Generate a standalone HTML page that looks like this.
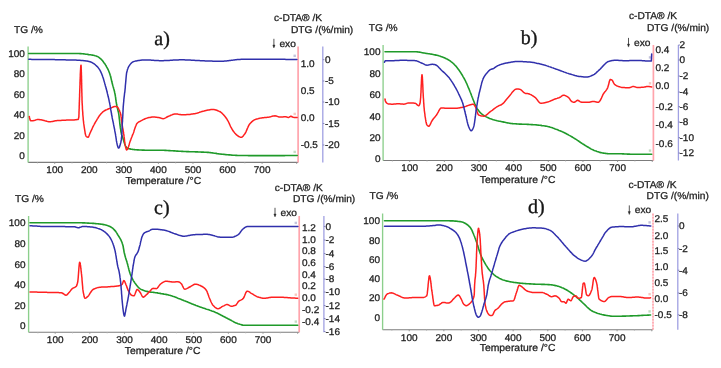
<!DOCTYPE html>
<html><head><meta charset="utf-8"><style>
html,body{margin:0;padding:0;background:#fff;width:721px;height:368px;overflow:hidden}
svg{display:block;will-change:transform} text{text-rendering:geometricPrecision}
</style></head><body>
<svg width="721" height="368" viewBox="0 0 721 368">
<rect width="721" height="368" fill="#fff"/>
<line x1="28.10" y1="162.40" x2="298.10" y2="162.40" stroke="#7c7c7c" stroke-width="1.1"/>
<line x1="37.42" y1="162.40" x2="37.42" y2="163.50" stroke="#b8b8b8" stroke-width="0.8"/>
<line x1="54.70" y1="162.40" x2="54.70" y2="163.90" stroke="#909090" stroke-width="0.9"/>
<line x1="71.98" y1="162.40" x2="71.98" y2="163.50" stroke="#b8b8b8" stroke-width="0.8"/>
<line x1="89.27" y1="162.40" x2="89.27" y2="163.90" stroke="#909090" stroke-width="0.9"/>
<line x1="106.55" y1="162.40" x2="106.55" y2="163.50" stroke="#b8b8b8" stroke-width="0.8"/>
<line x1="123.83" y1="162.40" x2="123.83" y2="163.90" stroke="#909090" stroke-width="0.9"/>
<line x1="141.12" y1="162.40" x2="141.12" y2="163.50" stroke="#b8b8b8" stroke-width="0.8"/>
<line x1="158.40" y1="162.40" x2="158.40" y2="163.90" stroke="#909090" stroke-width="0.9"/>
<line x1="175.68" y1="162.40" x2="175.68" y2="163.50" stroke="#b8b8b8" stroke-width="0.8"/>
<line x1="192.97" y1="162.40" x2="192.97" y2="163.90" stroke="#909090" stroke-width="0.9"/>
<line x1="210.25" y1="162.40" x2="210.25" y2="163.50" stroke="#b8b8b8" stroke-width="0.8"/>
<line x1="227.53" y1="162.40" x2="227.53" y2="163.90" stroke="#909090" stroke-width="0.9"/>
<line x1="244.82" y1="162.40" x2="244.82" y2="163.50" stroke="#b8b8b8" stroke-width="0.8"/>
<line x1="262.10" y1="162.40" x2="262.10" y2="163.90" stroke="#909090" stroke-width="0.9"/>
<line x1="279.38" y1="162.40" x2="279.38" y2="163.50" stroke="#b8b8b8" stroke-width="0.8"/>
<line x1="296.67" y1="162.40" x2="296.67" y2="163.90" stroke="#909090" stroke-width="0.9"/>
<line x1="28.10" y1="46.50" x2="28.10" y2="162.40" stroke="#8ccf8c" stroke-width="1.35"/>
<line x1="298.10" y1="46.50" x2="298.10" y2="162.40" stroke="#ffa4ac" stroke-width="1.7"/>
<line x1="322.80" y1="46.50" x2="322.80" y2="162.40" stroke="#a0a0e2" stroke-width="1.3"/>
<text transform="translate(24.90,56.72) scale(1,0.97)" font-size="10" text-anchor="end" font-family="Liberation Sans" fill="#222" stroke="#222" stroke-width="0.28">100</text>
<text transform="translate(24.90,77.22) scale(1,0.97)" font-size="10" text-anchor="end" font-family="Liberation Sans" fill="#222" stroke="#222" stroke-width="0.28">80</text>
<text transform="translate(24.90,97.72) scale(1,0.97)" font-size="10" text-anchor="end" font-family="Liberation Sans" fill="#222" stroke="#222" stroke-width="0.28">60</text>
<text transform="translate(24.90,118.22) scale(1,0.97)" font-size="10" text-anchor="end" font-family="Liberation Sans" fill="#222" stroke="#222" stroke-width="0.28">40</text>
<text transform="translate(24.90,138.72) scale(1,0.97)" font-size="10" text-anchor="end" font-family="Liberation Sans" fill="#222" stroke="#222" stroke-width="0.28">20</text>
<text transform="translate(24.90,159.22) scale(1,0.97)" font-size="10" text-anchor="end" font-family="Liberation Sans" fill="#222" stroke="#222" stroke-width="0.28">0</text>
<text transform="translate(54.70,173.17) scale(1,0.97)" font-size="10" text-anchor="middle" font-family="Liberation Sans" fill="#222" stroke="#222" stroke-width="0.28">100</text>
<text transform="translate(89.27,173.17) scale(1,0.97)" font-size="10" text-anchor="middle" font-family="Liberation Sans" fill="#222" stroke="#222" stroke-width="0.28">200</text>
<text transform="translate(123.83,173.17) scale(1,0.97)" font-size="10" text-anchor="middle" font-family="Liberation Sans" fill="#222" stroke="#222" stroke-width="0.28">300</text>
<text transform="translate(158.40,173.17) scale(1,0.97)" font-size="10" text-anchor="middle" font-family="Liberation Sans" fill="#222" stroke="#222" stroke-width="0.28">400</text>
<text transform="translate(192.97,173.17) scale(1,0.97)" font-size="10" text-anchor="middle" font-family="Liberation Sans" fill="#222" stroke="#222" stroke-width="0.28">500</text>
<text transform="translate(227.53,173.17) scale(1,0.97)" font-size="10" text-anchor="middle" font-family="Liberation Sans" fill="#222" stroke="#222" stroke-width="0.28">600</text>
<text transform="translate(262.10,173.17) scale(1,0.97)" font-size="10" text-anchor="middle" font-family="Liberation Sans" fill="#222" stroke="#222" stroke-width="0.28">700</text>
<text transform="translate(300.70,67.47) scale(1,0.97)" font-size="10" text-anchor="start" font-family="Liberation Sans" fill="#222" stroke="#222" stroke-width="0.28">1.0</text>
<text transform="translate(300.70,94.47) scale(1,0.97)" font-size="10" text-anchor="start" font-family="Liberation Sans" fill="#222" stroke="#222" stroke-width="0.28">0.5</text>
<text transform="translate(300.70,120.97) scale(1,0.97)" font-size="10" text-anchor="start" font-family="Liberation Sans" fill="#222" stroke="#222" stroke-width="0.28">0.0</text>
<text transform="translate(300.70,148.47) scale(1,0.97)" font-size="10" text-anchor="start" font-family="Liberation Sans" fill="#222" stroke="#222" stroke-width="0.28">-0.5</text>
<text transform="translate(325.00,63.17) scale(1,0.97)" font-size="10" text-anchor="start" font-family="Liberation Sans" fill="#222" stroke="#222" stroke-width="0.28">0</text>
<line x1="322.80" y1="59.70" x2="324.40" y2="59.70" stroke="#8080b8" stroke-width="0.9"/>
<text transform="translate(325.00,84.47) scale(1,0.97)" font-size="10" text-anchor="start" font-family="Liberation Sans" fill="#222" stroke="#222" stroke-width="0.28">-5</text>
<line x1="322.80" y1="81.00" x2="324.40" y2="81.00" stroke="#8080b8" stroke-width="0.9"/>
<text transform="translate(325.00,105.47) scale(1,0.97)" font-size="10" text-anchor="start" font-family="Liberation Sans" fill="#222" stroke="#222" stroke-width="0.28">-10</text>
<line x1="322.80" y1="102.00" x2="324.40" y2="102.00" stroke="#8080b8" stroke-width="0.9"/>
<text transform="translate(325.00,126.97) scale(1,0.97)" font-size="10" text-anchor="start" font-family="Liberation Sans" fill="#222" stroke="#222" stroke-width="0.28">-15</text>
<line x1="322.80" y1="123.50" x2="324.40" y2="123.50" stroke="#8080b8" stroke-width="0.9"/>
<text transform="translate(325.00,148.47) scale(1,0.97)" font-size="10" text-anchor="start" font-family="Liberation Sans" fill="#222" stroke="#222" stroke-width="0.28">-20</text>
<line x1="322.80" y1="145.00" x2="324.40" y2="145.00" stroke="#8080b8" stroke-width="0.9"/>
<text transform="translate(14.00,32.77) scale(1,0.97)" font-size="10.2" text-anchor="start" font-family="Liberation Sans" fill="#222" stroke="#222" stroke-width="0.28">TG /%</text>
<text transform="translate(274.00,21.37) scale(1,0.97)" font-size="10.2" text-anchor="start" font-family="Liberation Sans" fill="#222" stroke="#222" stroke-width="0.28">c-DTA® /K</text>
<text transform="translate(291.00,32.97) scale(1,0.97)" font-size="10.2" text-anchor="start" font-family="Liberation Sans" fill="#222" stroke="#222" stroke-width="0.28">DTG /(%/min)</text>
<path d="M273.90,38.80 L273.90,46.90" stroke="#2a2a2a" stroke-width="0.8"/>
<path d="M272.80,45.00 L273.90,48.00 L275.00,45.00 Z" fill="#2a2a2a" stroke="#2a2a2a" stroke-width="0.4"/>
<text transform="translate(279.40,46.87) scale(1,0.97)" font-size="10.2" text-anchor="start" font-family="Liberation Sans" fill="#222" stroke="#222" stroke-width="0.28">exo</text>
<text transform="translate(125.40,184.47) scale(1,0.97)" font-size="10.4" text-anchor="start" font-family="Liberation Sans" fill="#222" stroke="#222" stroke-width="0.28">Temperature /°C</text>
<text transform="translate(154.30,44.60) scale(1,1.0)" font-size="20" text-anchor="start" font-family="Liberation Serif" fill="#161616" stroke="#161616" stroke-width="0.35">a)</text>
<rect x="293.50" y="150.70" width="2.4" height="2.4" fill="#c4dcc4"/>
<rect x="293.50" y="112.70" width="2.4" height="2.4" fill="#f8c8c0"/>
<rect x="293.50" y="54.60" width="2.4" height="2.4" fill="#c4c4dc"/>
<path d="M28.8,53.5 L29.8,53.5 L30.8,53.5 L31.8,53.5 L32.7,53.5 L33.7,53.5 L34.7,53.5 L35.7,53.5 L36.7,53.5 L37.7,53.5 L38.6,53.5 L39.6,53.5 L40.6,53.5 L41.6,53.5 L42.6,53.5 L43.6,53.5 L44.5,53.5 L45.5,53.5 L46.5,53.5 L47.5,53.5 L48.5,53.5 L49.5,53.5 L50.4,53.5 L51.4,53.5 L52.4,53.5 L53.4,53.5 L54.4,53.5 L55.4,53.5 L56.4,53.5 L57.3,53.5 L58.3,53.5 L59.3,53.5 L60.3,53.5 L61.3,53.5 L62.3,53.5 L63.2,53.5 L64.2,53.5 L65.2,53.5 L66.2,53.5 L67.2,53.5 L68.2,53.5 L69.1,53.5 L70.1,53.5 L71.1,53.5 L72.1,53.5 L73.1,53.5 L74.1,53.5 L75.0,53.5 L76.0,53.5 L77.0,53.5 L78.0,53.5 L79.0,53.5 L80.0,53.6 L80.9,53.6 L81.9,53.7 L82.9,53.8 L83.8,53.9 L84.8,54.0 L85.8,54.2 L86.8,54.3 L87.8,54.4 L88.7,54.6 L89.7,54.7 L90.6,54.8 L91.5,55.0 L92.4,55.1 L93.3,55.3 L94.3,55.5 L95.2,55.8 L96.2,56.0 L97.2,56.4 L98.2,56.9 L99.2,57.6 L100.1,58.3 L101.1,59.2 L101.8,59.9 L102.4,60.6 L103.1,61.5 L103.7,62.4 L104.4,63.3 L105.0,64.1 L105.5,64.9 L106.1,65.8 L106.6,66.8 L107.2,67.8 L107.6,68.6 L108.0,69.4 L108.4,70.3 L108.8,71.2 L109.2,72.2 L109.6,73.2 L110.0,74.4 L110.2,75.2 L110.5,76.1 L110.7,77.1 L111.0,78.1 L111.2,79.1 L111.5,80.2 L111.7,81.3 L112.0,82.3 L112.2,83.3 L112.5,84.3 L112.7,85.2 L113.0,86.1 L113.2,86.9 L113.5,87.8 L113.7,88.7 L114.0,89.6 L114.2,90.6 L114.5,91.6 L114.7,92.7 L115.0,93.9 L115.1,94.6 L115.3,95.5 L115.4,96.4 L115.6,97.3 L115.7,98.3 L115.8,99.3 L116.0,100.4 L116.1,101.4 L116.3,102.4 L116.4,103.3 L116.6,104.2 L116.7,105.0 L116.9,106.1 L117.1,107.1 L117.4,108.0 L117.6,108.9 L117.8,109.8 L118.0,110.6 L118.2,111.6 L118.5,112.6 L118.7,113.7 L118.9,115.0 L119.0,115.8 L119.1,116.7 L119.2,117.7 L119.3,118.8 L119.5,119.9 L119.6,121.0 L119.7,122.1 L119.8,123.2 L119.9,124.1 L120.0,125.0 L120.2,126.2 L120.3,127.4 L120.5,128.6 L120.7,129.7 L120.8,130.8 L121.0,131.8 L121.2,132.8 L121.4,133.6 L121.5,134.4 L121.7,135.0 L122.1,136.1 L122.4,136.9 L122.8,137.8 L123.1,138.7 L123.4,139.7 L123.7,140.8 L124.0,141.9 L124.4,142.9 L124.7,143.9 L125.0,144.8 L125.3,145.5 L125.6,146.1 L126.3,147.1 L127.1,147.8 L127.8,148.3 L128.5,148.6 L129.3,148.7 L130.0,148.9 L130.9,149.1 L131.8,149.2 L132.7,149.4 L133.6,149.5 L134.5,149.6 L135.4,149.7 L136.3,149.8 L137.3,149.9 L138.2,149.9 L139.2,150.0 L140.2,150.0 L141.2,150.0 L142.2,150.1 L143.1,150.1 L144.1,150.1 L145.1,150.2 L146.1,150.2 L147.0,150.2 L148.0,150.2 L149.0,150.2 L150.0,150.2 L151.0,150.2 L152.0,150.2 L153.0,150.2 L154.0,150.2 L155.0,150.2 L156.0,150.2 L157.0,150.2 L158.0,150.2 L159.0,150.2 L160.0,150.2 L161.0,150.2 L162.0,150.3 L162.9,150.3 L163.9,150.3 L164.9,150.4 L165.9,150.4 L166.9,150.5 L167.9,150.5 L168.9,150.6 L169.9,150.6 L170.9,150.7 L171.8,150.7 L172.8,150.8 L173.8,150.9 L174.8,150.9 L175.8,151.0 L176.8,151.1 L177.8,151.1 L178.8,151.2 L179.8,151.2 L180.7,151.3 L181.7,151.4 L182.7,151.4 L183.7,151.5 L184.7,151.5 L185.7,151.5 L186.7,151.6 L187.6,151.6 L188.6,151.6 L189.6,151.7 L190.6,151.7 L191.6,151.7 L192.6,151.8 L193.5,151.8 L194.5,151.8 L195.5,151.9 L196.5,151.9 L197.5,151.9 L198.4,152.0 L199.4,152.0 L200.4,152.0 L201.4,152.1 L202.4,152.1 L203.4,152.1 L204.3,152.2 L205.3,152.2 L206.3,152.3 L207.3,152.4 L208.3,152.4 L209.2,152.5 L210.2,152.6 L211.2,152.8 L212.2,152.9 L213.2,153.0 L214.2,153.2 L215.1,153.3 L216.1,153.4 L217.1,153.6 L218.1,153.7 L219.1,153.9 L220.1,154.0 L221.0,154.1 L222.0,154.2 L223.0,154.3 L224.0,154.4 L225.0,154.5 L225.9,154.6 L226.9,154.7 L227.9,154.8 L228.9,154.9 L229.9,154.9 L230.9,155.0 L231.8,155.1 L232.8,155.2 L233.8,155.3 L234.8,155.3 L235.8,155.4 L236.8,155.4 L237.7,155.5 L238.7,155.5 L239.7,155.5 L240.7,155.5 L241.7,155.5 L242.6,155.5 L243.6,155.5 L244.6,155.5 L245.6,155.5 L246.5,155.5 L247.5,155.5 L248.5,155.6 L249.5,155.6 L250.4,155.6 L251.4,155.6 L252.4,155.6 L253.4,155.6 L254.3,155.6 L255.3,155.6 L256.3,155.6 L257.3,155.6 L258.2,155.6 L259.2,155.6 L260.2,155.6 L261.2,155.6 L262.1,155.6 L263.1,155.6 L264.1,155.6 L265.1,155.6 L266.0,155.6 L267.0,155.6 L268.0,155.6 L269.0,155.6 L269.9,155.6 L270.9,155.6 L271.9,155.6 L272.9,155.6 L273.8,155.6 L274.8,155.6 L275.8,155.6 L276.8,155.6 L277.7,155.6 L278.7,155.6 L279.7,155.6 L280.7,155.6 L281.6,155.6 L282.6,155.6 L283.6,155.6 L284.5,155.6 L285.5,155.5 L286.5,155.5 L287.5,155.5 L288.4,155.5 L289.4,155.5 L290.4,155.5 L291.4,155.5 L292.3,155.5 L293.3,155.5 L294.3,155.5 L295.3,155.5 L296.2,155.5 L297.2,155.5" fill="none" stroke="#1f9a2a" stroke-width="1.6" stroke-linejoin="round" stroke-linecap="round"/>
<path d="M29.3,116.5 L29.5,117.5 L29.8,118.6 L30.0,119.6 L30.3,120.4 L30.5,120.7 L31.3,120.7 L32.2,120.7 L33.0,120.7 L34.0,120.6 L35.0,120.3 L36.0,119.9 L37.0,119.6 L38.0,119.5 L39.0,119.5 L40.0,119.7 L41.0,119.8 L42.0,120.0 L43.0,120.2 L44.0,120.4 L44.9,120.7 L45.9,121.0 L46.8,121.3 L47.8,121.6 L48.7,121.7 L49.7,121.8 L50.6,121.7 L51.6,121.6 L52.5,121.4 L53.5,121.2 L54.4,121.0 L55.4,120.8 L56.3,120.7 L57.2,120.6 L58.2,120.6 L59.1,120.5 L60.0,120.4 L61.0,120.4 L61.9,120.3 L62.8,120.3 L63.8,120.3 L64.7,120.2 L65.7,120.2 L66.6,120.1 L67.5,120.1 L68.5,120.1 L69.5,120.0 L70.4,120.0 L71.3,120.0 L72.3,120.0 L73.2,119.9 L74.2,119.9 L75.2,119.8 L76.1,119.7 L77.0,119.6 L78.0,119.5 L78.3,119.2 L78.5,118.5 L78.8,117.3 L78.8,117.0 L78.9,116.5 L78.9,115.8 L78.9,115.0 L79.0,114.1 L79.0,113.0 L79.0,111.9 L79.1,110.7 L79.1,109.5 L79.2,108.3 L79.2,107.1 L79.2,106.0 L79.3,104.9 L79.3,104.0 L79.3,102.9 L79.4,101.7 L79.4,100.6 L79.5,99.4 L79.5,98.1 L79.6,96.9 L79.6,95.6 L79.6,94.3 L79.7,93.0 L79.7,91.7 L79.8,90.3 L79.8,89.0 L79.9,87.7 L79.9,86.3 L80.0,85.0 L80.0,83.7 L80.0,82.4 L80.1,81.2 L80.1,79.9 L80.2,78.7 L80.2,77.5 L80.3,76.4 L80.3,75.2 L80.3,74.1 L80.4,73.1 L80.4,72.1 L80.5,71.2 L80.5,70.3 L80.6,69.5 L80.6,68.7 L80.7,68.0 L80.7,67.4 L80.7,66.8 L80.8,66.3 L80.8,65.9 L80.9,65.6 L80.9,65.4 L81.0,65.2 L81.0,65.2 L81.0,65.3 L81.1,65.4 L81.1,65.7 L81.1,66.1 L81.2,66.6 L81.2,67.2 L81.2,67.9 L81.2,68.7 L81.3,69.5 L81.3,70.5 L81.3,71.5 L81.4,72.5 L81.4,73.6 L81.4,74.8 L81.5,76.0 L81.5,77.2 L81.5,78.5 L81.6,79.8 L81.6,81.2 L81.6,82.5 L81.6,83.9 L81.7,85.2 L81.7,86.6 L81.7,88.0 L81.8,89.3 L81.8,90.7 L81.8,92.0 L81.9,93.3 L81.9,94.5 L81.9,95.7 L82.0,96.9 L82.0,98.0 L82.0,99.1 L82.0,100.1 L82.1,101.0 L82.1,101.9 L82.1,102.7 L82.2,103.4 L82.2,104.0 L82.3,105.4 L82.4,106.8 L82.4,108.2 L82.5,109.5 L82.6,110.7 L82.7,111.9 L82.8,113.1 L82.8,114.2 L82.9,115.2 L83.0,116.2 L83.1,117.2 L83.2,118.1 L83.2,119.0 L83.3,119.8 L83.4,120.6 L83.5,121.4 L83.6,122.1 L83.6,122.7 L83.7,123.4 L83.8,124.0 L84.0,125.4 L84.2,126.8 L84.4,128.1 L84.6,129.4 L84.8,130.6 L85.0,131.8 L85.1,132.8 L85.3,133.8 L85.5,134.6 L85.7,135.3 L85.9,135.8 L86.1,136.3 L86.3,136.5 L87.2,137.1 L88.0,137.3 L88.5,136.9 L89.0,135.8 L89.5,134.5 L90.0,133.3 L90.4,132.4 L90.8,131.5 L91.2,130.6 L91.7,129.7 L92.1,128.7 L92.5,127.8 L92.9,126.9 L93.3,126.1 L93.9,125.0 L94.4,124.0 L95.0,123.0 L95.5,122.0 L96.1,121.1 L96.7,120.2 L97.2,119.2 L97.8,118.3 L98.3,117.4 L98.9,116.5 L99.4,115.7 L100.0,115.0 L101.0,113.8 L102.0,112.8 L102.9,111.8 L103.9,111.1 L104.9,110.5 L105.8,110.0 L106.8,109.6 L107.7,109.2 L108.7,108.8 L109.6,108.5 L110.6,108.1 L111.6,107.7 L112.6,107.2 L113.6,106.8 L114.6,106.5 L115.6,106.4 L116.4,106.5 L117.2,106.9 L117.8,107.4 L118.3,108.3 L118.9,109.4 L119.2,110.1 L119.6,110.8 L119.9,111.7 L120.3,112.7 L120.6,113.9 L120.7,114.5 L120.9,115.2 L121.0,116.0 L121.1,116.9 L121.3,117.9 L121.4,118.9 L121.5,120.0 L121.7,121.1 L121.8,122.1 L121.9,123.1 L122.1,124.1 L122.2,125.0 L122.4,126.1 L122.5,127.1 L122.7,128.0 L122.9,129.0 L123.1,129.9 L123.2,130.8 L123.4,131.8 L123.6,132.8 L123.7,133.9 L123.9,135.0 L124.0,135.9 L124.1,136.9 L124.3,138.0 L124.4,139.1 L124.5,140.2 L124.6,141.3 L124.8,142.3 L124.9,143.2 L125.0,143.9 L125.2,145.2 L125.5,146.4 L125.7,147.5 L126.0,148.5 L126.2,149.3 L126.5,149.8 L126.7,150.0 L127.2,149.5 L127.8,148.5 L128.3,147.2 L128.6,146.5 L128.9,145.6 L129.2,144.6 L129.4,143.6 L129.7,142.6 L130.0,141.7 L130.4,140.6 L130.8,139.6 L131.1,138.7 L131.5,137.7 L131.9,136.8 L132.2,135.9 L132.6,134.9 L133.0,134.0 L133.4,133.0 L133.8,131.9 L134.1,130.7 L134.5,129.5 L134.9,128.3 L135.3,127.2 L135.7,126.1 L136.1,125.2 L136.4,124.4 L136.8,123.7 L137.2,123.2 L138.0,122.5 L138.8,121.9 L139.7,121.5 L140.5,121.1 L141.3,120.7 L142.3,120.2 L143.2,119.7 L144.2,119.2 L145.1,118.8 L146.1,118.4 L147.0,118.1 L148.0,117.8 L149.0,117.6 L150.0,117.4 L151.0,117.2 L152.0,117.0 L153.0,117.0 L154.0,117.0 L154.9,117.1 L155.9,117.2 L156.8,117.3 L157.8,117.4 L158.7,117.5 L159.7,117.7 L160.5,117.9 L161.3,118.3 L162.2,118.6 L163.0,118.7 L164.0,118.5 L165.0,118.1 L166.0,117.6 L167.0,117.0 L168.0,116.5 L168.9,116.1 L169.9,115.7 L170.8,115.3 L171.8,114.9 L172.7,114.5 L173.6,114.3 L174.6,114.1 L175.5,114.0 L176.4,114.0 L177.4,114.1 L178.3,114.3 L179.2,114.4 L180.2,114.5 L181.1,114.7 L182.1,114.8 L183.0,114.8 L184.0,114.8 L184.9,114.8 L185.9,114.7 L186.9,114.6 L187.9,114.6 L188.8,114.5 L189.8,114.4 L190.8,114.2 L191.8,114.1 L192.8,114.0 L193.7,113.8 L194.7,113.7 L195.6,113.5 L196.5,113.3 L197.5,113.0 L198.4,112.7 L199.3,112.4 L200.2,112.0 L201.2,111.7 L202.1,111.4 L203.0,111.2 L204.0,111.0 L205.0,110.7 L206.0,110.5 L207.0,110.3 L208.0,110.1 L209.0,109.9 L210.0,109.7 L211.0,109.6 L212.0,109.5 L213.0,109.5 L214.0,109.6 L214.9,109.7 L215.9,110.0 L216.8,110.3 L217.8,110.7 L218.7,111.1 L219.7,111.5 L220.6,112.0 L221.6,112.8 L222.5,113.7 L223.5,114.7 L224.4,115.8 L225.4,117.0 L226.3,118.2 L226.8,118.9 L227.3,119.8 L227.8,120.7 L228.4,121.7 L228.9,122.8 L229.4,123.9 L229.9,125.0 L230.4,126.1 L230.9,127.1 L231.5,128.2 L232.0,129.1 L232.5,130.0 L233.0,130.7 L233.8,131.8 L234.7,132.9 L235.5,133.8 L236.3,134.7 L237.2,135.4 L238.0,136.0 L238.8,136.5 L239.7,136.9 L240.5,137.2 L241.3,137.3 L242.2,137.0 L243.0,136.2 L243.8,135.1 L244.7,134.0 L245.2,133.3 L245.7,132.3 L246.2,131.3 L246.7,130.1 L247.2,128.9 L247.7,127.8 L248.2,126.6 L248.7,125.6 L249.2,124.7 L249.7,124.0 L250.6,123.0 L251.5,122.1 L252.3,121.3 L253.2,120.6 L254.1,120.0 L255.0,119.6 L256.0,119.2 L256.9,118.9 L257.9,118.7 L258.8,118.4 L259.8,118.2 L260.7,118.1 L261.7,117.9 L262.6,117.8 L263.6,117.7 L264.5,117.6 L265.4,117.5 L266.4,117.4 L267.3,117.3 L268.3,117.2 L269.2,117.1 L270.2,116.9 L271.1,116.6 L272.1,116.3 L273.1,116.1 L274.0,115.9 L275.0,115.8 L276.0,115.9 L277.0,116.3 L278.0,116.6 L279.0,117.0 L280.0,117.1 L281.0,117.1 L281.9,117.0 L282.9,116.9 L283.9,116.8 L284.8,116.7 L285.8,116.7 L286.6,116.9 L287.5,117.3 L288.3,117.5 L289.1,117.2 L290.0,116.6 L290.8,116.2 L291.6,116.5 L292.5,117.0 L293.3,117.3 L294.2,117.4 L295.2,117.4 L296.2,117.5 L297.1,117.5" fill="none" stroke="#ff2020" stroke-width="1.5" stroke-linejoin="round" stroke-linecap="round"/>
<path d="M28.8,59.3 L29.8,59.3 L30.8,59.3 L31.8,59.4 L32.7,59.4 L33.7,59.4 L34.7,59.4 L35.7,59.4 L36.7,59.4 L37.7,59.4 L38.6,59.4 L39.6,59.5 L40.6,59.5 L41.6,59.5 L42.6,59.5 L43.6,59.5 L44.5,59.5 L45.5,59.5 L46.5,59.5 L47.5,59.6 L48.5,59.6 L49.5,59.6 L50.4,59.6 L51.4,59.6 L52.4,59.6 L53.4,59.6 L54.4,59.6 L55.4,59.7 L56.4,59.7 L57.3,59.7 L58.3,59.7 L59.3,59.7 L60.3,59.7 L61.3,59.8 L62.3,59.8 L63.2,59.8 L64.2,59.8 L65.2,59.8 L66.2,59.9 L67.2,59.9 L68.2,59.9 L69.1,59.9 L70.1,59.9 L71.1,60.0 L72.1,60.0 L73.1,60.0 L74.1,60.1 L75.0,60.1 L76.0,60.1 L77.0,60.2 L78.0,60.2 L79.0,60.2 L80.0,60.3 L81.0,60.4 L82.0,60.5 L83.0,60.6 L84.0,60.7 L85.0,60.8 L86.0,60.9 L87.0,61.1 L88.0,61.3 L89.0,61.5 L90.0,61.7 L90.8,62.0 L91.7,62.3 L92.5,62.8 L93.3,63.3 L94.2,63.9 L95.0,64.5 L95.8,65.3 L96.7,66.1 L97.4,66.8 L98.1,67.6 L98.7,68.4 L99.4,69.4 L99.9,70.2 L100.4,71.1 L100.9,72.1 L101.4,73.2 L101.9,74.4 L102.2,75.2 L102.5,76.1 L102.8,77.0 L103.2,78.0 L103.5,79.0 L103.8,80.1 L104.1,81.1 L104.4,82.2 L104.7,83.1 L104.9,84.0 L105.2,84.9 L105.4,85.9 L105.7,86.8 L106.0,87.8 L106.2,88.8 L106.5,89.8 L106.8,90.8 L107.0,91.8 L107.3,92.9 L107.5,93.9 L107.8,95.0 L108.0,95.9 L108.2,96.8 L108.5,97.8 L108.7,98.7 L108.9,99.7 L109.1,100.7 L109.3,101.7 L109.6,102.8 L109.8,103.9 L110.0,105.0 L110.2,105.9 L110.3,106.9 L110.5,107.9 L110.7,108.9 L110.8,109.9 L111.0,111.0 L111.2,112.0 L111.4,113.1 L111.5,114.0 L111.7,115.0 L111.9,116.0 L112.1,116.9 L112.2,117.9 L112.4,118.8 L112.6,119.7 L112.8,120.6 L113.0,121.5 L113.2,122.4 L113.4,123.3 L113.5,124.2 L113.7,125.2 L113.9,126.1 L114.1,127.1 L114.3,128.0 L114.5,129.0 L114.7,129.9 L114.8,130.9 L115.0,131.9 L115.2,132.9 L115.4,133.9 L115.6,135.0 L115.7,135.9 L115.9,136.8 L116.0,137.8 L116.2,138.8 L116.3,139.8 L116.4,140.7 L116.6,141.5 L116.7,142.2 L117.0,143.6 L117.3,145.0 L117.7,146.2 L118.0,147.2 L118.3,147.9 L118.6,148.1 L119.0,147.8 L119.4,147.1 L119.8,146.1 L120.2,144.7 L120.6,143.3 L120.7,142.8 L120.9,142.2 L121.0,141.5 L121.1,140.8 L121.3,139.9 L121.4,138.9 L121.5,137.7 L121.7,136.5 L121.8,135.0 L121.8,134.4 L121.9,133.6 L121.9,132.6 L122.0,131.5 L122.0,130.4 L122.1,129.3 L122.1,128.1 L122.2,127.1 L122.2,126.1 L122.2,125.1 L122.3,124.1 L122.3,123.2 L122.4,122.2 L122.5,121.3 L122.5,120.4 L122.5,119.5 L122.6,118.6 L122.7,117.7 L122.7,116.8 L122.8,115.9 L122.8,115.0 L122.9,114.0 L122.9,112.9 L123.0,111.8 L123.0,110.8 L123.1,109.7 L123.1,108.7 L123.2,107.8 L123.2,106.9 L123.3,106.1 L123.4,104.9 L123.5,103.8 L123.6,102.8 L123.7,101.8 L123.8,100.9 L123.8,100.0 L123.9,99.1 L124.0,98.3 L124.1,97.4 L124.2,96.6 L124.3,95.8 L124.4,95.0 L124.5,94.0 L124.6,93.0 L124.8,92.1 L124.9,91.1 L125.0,90.0 L125.1,89.1 L125.2,88.2 L125.3,87.2 L125.3,86.2 L125.4,85.2 L125.5,84.2 L125.6,83.3 L125.7,82.2 L125.8,81.1 L125.9,79.9 L126.0,78.8 L126.1,77.6 L126.2,76.5 L126.3,75.5 L126.4,74.6 L126.5,73.7 L126.6,73.0 L126.7,72.5 L127.1,71.0 L127.4,69.7 L127.8,68.7 L128.1,67.8 L128.5,67.0 L128.8,66.4 L129.2,65.8 L130.0,64.6 L130.8,63.6 L131.7,62.8 L132.5,62.1 L133.3,61.7 L134.3,61.4 L135.3,61.1 L136.2,60.9 L137.2,60.7 L138.2,60.5 L139.2,60.4 L140.1,60.3 L141.0,60.2 L141.9,60.1 L142.9,60.0 L143.8,59.9 L144.7,59.9 L145.7,59.9 L146.7,59.9 L147.6,60.0 L148.6,60.0 L149.6,60.1 L150.6,60.1 L151.5,60.2 L152.5,60.3 L153.5,60.3 L154.5,60.4 L155.4,60.5 L156.4,60.5 L157.4,60.6 L158.4,60.6 L159.3,60.7 L160.3,60.7 L161.3,60.7 L162.3,60.7 L163.3,60.7 L164.3,60.6 L165.3,60.6 L166.3,60.6 L167.3,60.5 L168.3,60.4 L169.3,60.4 L170.3,60.3 L171.3,60.2 L172.3,60.2 L173.3,60.1 L174.3,60.1 L175.3,60.0 L176.3,59.9 L177.3,59.9 L178.3,59.9 L179.3,59.8 L180.3,59.8 L181.3,59.8 L182.3,59.8 L183.3,59.8 L184.3,59.8 L185.3,59.9 L186.3,59.9 L187.3,59.9 L188.3,60.0 L189.3,60.0 L190.3,60.1 L191.3,60.2 L192.3,60.2 L193.3,60.3 L194.3,60.3 L195.3,60.4 L196.3,60.5 L197.3,60.5 L198.3,60.6 L199.3,60.6 L200.3,60.7 L201.3,60.7 L202.3,60.7 L203.2,60.8 L204.2,60.8 L205.2,60.9 L206.1,60.9 L207.1,60.9 L208.1,61.0 L209.0,61.0 L210.0,61.1 L211.0,61.1 L212.0,61.1 L212.9,61.2 L213.9,61.2 L214.9,61.2 L215.8,61.3 L216.8,61.3 L217.8,61.3 L218.7,61.3 L219.7,61.3 L220.7,61.3 L221.6,61.3 L222.6,61.2 L223.6,61.2 L224.6,61.1 L225.5,61.0 L226.5,60.9 L227.5,60.8 L228.4,60.7 L229.4,60.5 L230.4,60.4 L231.3,60.3 L232.3,60.2 L233.3,60.1 L234.3,59.9 L235.2,59.8 L236.2,59.7 L237.2,59.6 L238.1,59.5 L239.1,59.4 L240.1,59.4 L241.1,59.3 L242.0,59.3 L243.0,59.3 L244.0,59.3 L245.0,59.3 L246.0,59.3 L247.0,59.3 L248.0,59.3 L249.0,59.3 L250.0,59.3 L251.0,59.3 L252.0,59.3 L253.0,59.3 L254.0,59.3 L255.0,59.3 L256.0,59.3 L257.0,59.3 L258.0,59.3 L259.0,59.3 L260.0,59.3 L261.0,59.3 L262.0,59.3 L263.0,59.3 L264.0,59.3 L265.0,59.3 L266.0,59.3 L267.0,59.3 L268.0,59.3 L269.0,59.3 L270.0,59.3 L271.0,59.3 L272.0,59.3 L273.0,59.3 L274.0,59.3 L275.0,59.3 L276.0,59.3 L277.0,59.3 L278.0,59.3 L279.0,59.3 L280.0,59.3 L281.0,59.3 L282.0,59.3 L282.9,59.3 L283.9,59.3 L284.9,59.3 L285.9,59.4 L286.9,59.4 L287.9,59.4 L288.9,59.4 L289.9,59.4 L290.9,59.4 L291.9,59.4 L292.9,59.4 L293.9,59.4 L294.9,59.4 L295.9,59.4 L296.9,59.4" fill="none" stroke="#3030ac" stroke-width="1.5" stroke-linejoin="round" stroke-linecap="round"/>
<line x1="383.10" y1="160.50" x2="653.40" y2="160.50" stroke="#7c7c7c" stroke-width="1.1"/>
<line x1="392.38" y1="160.50" x2="392.38" y2="161.60" stroke="#b8b8b8" stroke-width="0.8"/>
<line x1="409.70" y1="160.50" x2="409.70" y2="162.00" stroke="#909090" stroke-width="0.9"/>
<line x1="427.02" y1="160.50" x2="427.02" y2="161.60" stroke="#b8b8b8" stroke-width="0.8"/>
<line x1="444.35" y1="160.50" x2="444.35" y2="162.00" stroke="#909090" stroke-width="0.9"/>
<line x1="461.68" y1="160.50" x2="461.68" y2="161.60" stroke="#b8b8b8" stroke-width="0.8"/>
<line x1="479.00" y1="160.50" x2="479.00" y2="162.00" stroke="#909090" stroke-width="0.9"/>
<line x1="496.32" y1="160.50" x2="496.32" y2="161.60" stroke="#b8b8b8" stroke-width="0.8"/>
<line x1="513.65" y1="160.50" x2="513.65" y2="162.00" stroke="#909090" stroke-width="0.9"/>
<line x1="530.98" y1="160.50" x2="530.98" y2="161.60" stroke="#b8b8b8" stroke-width="0.8"/>
<line x1="548.30" y1="160.50" x2="548.30" y2="162.00" stroke="#909090" stroke-width="0.9"/>
<line x1="565.62" y1="160.50" x2="565.62" y2="161.60" stroke="#b8b8b8" stroke-width="0.8"/>
<line x1="582.95" y1="160.50" x2="582.95" y2="162.00" stroke="#909090" stroke-width="0.9"/>
<line x1="600.27" y1="160.50" x2="600.27" y2="161.60" stroke="#b8b8b8" stroke-width="0.8"/>
<line x1="617.60" y1="160.50" x2="617.60" y2="162.00" stroke="#909090" stroke-width="0.9"/>
<line x1="634.92" y1="160.50" x2="634.92" y2="161.60" stroke="#b8b8b8" stroke-width="0.8"/>
<line x1="652.25" y1="160.50" x2="652.25" y2="162.00" stroke="#909090" stroke-width="0.9"/>
<line x1="383.10" y1="45.00" x2="383.10" y2="160.50" stroke="#8ccf8c" stroke-width="1.35"/>
<line x1="653.40" y1="45.00" x2="653.40" y2="160.50" stroke="#ffa4ac" stroke-width="1.7"/>
<line x1="678.40" y1="45.00" x2="678.40" y2="160.50" stroke="#a0a0e2" stroke-width="1.3"/>
<text transform="translate(380.50,55.47) scale(1,0.97)" font-size="10" text-anchor="end" font-family="Liberation Sans" fill="#222" stroke="#222" stroke-width="0.28">100</text>
<text transform="translate(380.50,76.87) scale(1,0.97)" font-size="10" text-anchor="end" font-family="Liberation Sans" fill="#222" stroke="#222" stroke-width="0.28">80</text>
<text transform="translate(380.50,98.27) scale(1,0.97)" font-size="10" text-anchor="end" font-family="Liberation Sans" fill="#222" stroke="#222" stroke-width="0.28">60</text>
<text transform="translate(380.50,119.67) scale(1,0.97)" font-size="10" text-anchor="end" font-family="Liberation Sans" fill="#222" stroke="#222" stroke-width="0.28">40</text>
<text transform="translate(380.50,141.07) scale(1,0.97)" font-size="10" text-anchor="end" font-family="Liberation Sans" fill="#222" stroke="#222" stroke-width="0.28">20</text>
<text transform="translate(380.50,162.47) scale(1,0.97)" font-size="10" text-anchor="end" font-family="Liberation Sans" fill="#222" stroke="#222" stroke-width="0.28">0</text>
<text transform="translate(409.70,171.47) scale(1,0.97)" font-size="10" text-anchor="middle" font-family="Liberation Sans" fill="#222" stroke="#222" stroke-width="0.28">100</text>
<text transform="translate(444.35,171.47) scale(1,0.97)" font-size="10" text-anchor="middle" font-family="Liberation Sans" fill="#222" stroke="#222" stroke-width="0.28">200</text>
<text transform="translate(479.00,171.47) scale(1,0.97)" font-size="10" text-anchor="middle" font-family="Liberation Sans" fill="#222" stroke="#222" stroke-width="0.28">300</text>
<text transform="translate(513.65,171.47) scale(1,0.97)" font-size="10" text-anchor="middle" font-family="Liberation Sans" fill="#222" stroke="#222" stroke-width="0.28">400</text>
<text transform="translate(548.30,171.47) scale(1,0.97)" font-size="10" text-anchor="middle" font-family="Liberation Sans" fill="#222" stroke="#222" stroke-width="0.28">500</text>
<text transform="translate(582.95,171.47) scale(1,0.97)" font-size="10" text-anchor="middle" font-family="Liberation Sans" fill="#222" stroke="#222" stroke-width="0.28">600</text>
<text transform="translate(617.60,171.47) scale(1,0.97)" font-size="10" text-anchor="middle" font-family="Liberation Sans" fill="#222" stroke="#222" stroke-width="0.28">700</text>
<text transform="translate(655.50,52.97) scale(1,0.97)" font-size="10" text-anchor="start" font-family="Liberation Sans" fill="#222" stroke="#222" stroke-width="0.28">0.4</text>
<text transform="translate(655.50,70.97) scale(1,0.97)" font-size="10" text-anchor="start" font-family="Liberation Sans" fill="#222" stroke="#222" stroke-width="0.28">0.2</text>
<text transform="translate(655.50,89.47) scale(1,0.97)" font-size="10" text-anchor="start" font-family="Liberation Sans" fill="#222" stroke="#222" stroke-width="0.28">0.0</text>
<text transform="translate(655.50,109.97) scale(1,0.97)" font-size="10" text-anchor="start" font-family="Liberation Sans" fill="#222" stroke="#222" stroke-width="0.28">-0.2</text>
<text transform="translate(655.50,128.47) scale(1,0.97)" font-size="10" text-anchor="start" font-family="Liberation Sans" fill="#222" stroke="#222" stroke-width="0.28">-0.4</text>
<text transform="translate(655.50,147.47) scale(1,0.97)" font-size="10" text-anchor="start" font-family="Liberation Sans" fill="#222" stroke="#222" stroke-width="0.28">-0.6</text>
<text transform="translate(679.50,48.47) scale(1,0.97)" font-size="10" text-anchor="start" font-family="Liberation Sans" fill="#222" stroke="#222" stroke-width="0.28">2</text>
<line x1="678.40" y1="45.00" x2="680.00" y2="45.00" stroke="#8080b8" stroke-width="0.9"/>
<text transform="translate(679.50,63.47) scale(1,0.97)" font-size="10" text-anchor="start" font-family="Liberation Sans" fill="#222" stroke="#222" stroke-width="0.28">0</text>
<line x1="678.40" y1="60.00" x2="680.00" y2="60.00" stroke="#8080b8" stroke-width="0.9"/>
<text transform="translate(679.50,79.47) scale(1,0.97)" font-size="10" text-anchor="start" font-family="Liberation Sans" fill="#222" stroke="#222" stroke-width="0.28">-2</text>
<line x1="678.40" y1="76.00" x2="680.00" y2="76.00" stroke="#8080b8" stroke-width="0.9"/>
<text transform="translate(679.50,95.47) scale(1,0.97)" font-size="10" text-anchor="start" font-family="Liberation Sans" fill="#222" stroke="#222" stroke-width="0.28">-4</text>
<line x1="678.40" y1="92.00" x2="680.00" y2="92.00" stroke="#8080b8" stroke-width="0.9"/>
<text transform="translate(679.50,109.97) scale(1,0.97)" font-size="10" text-anchor="start" font-family="Liberation Sans" fill="#222" stroke="#222" stroke-width="0.28">-6</text>
<line x1="678.40" y1="106.50" x2="680.00" y2="106.50" stroke="#8080b8" stroke-width="0.9"/>
<text transform="translate(679.50,125.47) scale(1,0.97)" font-size="10" text-anchor="start" font-family="Liberation Sans" fill="#222" stroke="#222" stroke-width="0.28">-8</text>
<line x1="678.40" y1="122.00" x2="680.00" y2="122.00" stroke="#8080b8" stroke-width="0.9"/>
<text transform="translate(679.50,140.97) scale(1,0.97)" font-size="10" text-anchor="start" font-family="Liberation Sans" fill="#222" stroke="#222" stroke-width="0.28">-10</text>
<line x1="678.40" y1="137.50" x2="680.00" y2="137.50" stroke="#8080b8" stroke-width="0.9"/>
<text transform="translate(679.50,156.47) scale(1,0.97)" font-size="10" text-anchor="start" font-family="Liberation Sans" fill="#222" stroke="#222" stroke-width="0.28">-12</text>
<line x1="678.40" y1="153.00" x2="680.00" y2="153.00" stroke="#8080b8" stroke-width="0.9"/>
<text transform="translate(368.70,30.97) scale(1,0.97)" font-size="10.2" text-anchor="start" font-family="Liberation Sans" fill="#222" stroke="#222" stroke-width="0.28">TG /%</text>
<text transform="translate(629.00,18.97) scale(1,0.97)" font-size="10.2" text-anchor="start" font-family="Liberation Sans" fill="#222" stroke="#222" stroke-width="0.28">c-DTA® /K</text>
<text transform="translate(647.00,30.97) scale(1,0.97)" font-size="10.2" text-anchor="start" font-family="Liberation Sans" fill="#222" stroke="#222" stroke-width="0.28">DTG /(%/min)</text>
<path d="M628.50,37.90 L628.50,46.00" stroke="#2a2a2a" stroke-width="0.8"/>
<path d="M627.40,44.10 L628.50,47.10 L629.60,44.10 Z" fill="#2a2a2a" stroke="#2a2a2a" stroke-width="0.4"/>
<text transform="translate(634.00,45.97) scale(1,0.97)" font-size="10.2" text-anchor="start" font-family="Liberation Sans" fill="#222" stroke="#222" stroke-width="0.28">exo</text>
<text transform="translate(479.70,182.97) scale(1,0.97)" font-size="10.4" text-anchor="start" font-family="Liberation Sans" fill="#222" stroke="#222" stroke-width="0.28">Temperature /°C</text>
<text transform="translate(520.80,44.10) scale(1,1.0)" font-size="20" text-anchor="start" font-family="Liberation Serif" fill="#161616" stroke="#161616" stroke-width="0.35">b)</text>
<rect x="648.80" y="149.40" width="2.4" height="2.4" fill="#c4dcc4"/>
<rect x="648.80" y="82.10" width="2.4" height="2.4" fill="#f8c8c0"/>
<rect x="648.80" y="56.20" width="2.4" height="2.4" fill="#c4c4dc"/>
<path d="M385.0,51.8 L386.0,51.8 L387.0,51.8 L387.9,51.8 L388.9,51.8 L389.9,51.8 L390.9,51.8 L391.8,51.8 L392.8,51.8 L393.8,51.8 L394.8,51.8 L395.8,51.8 L396.7,51.8 L397.7,51.8 L398.7,51.8 L399.7,51.8 L400.6,51.8 L401.6,51.8 L402.6,51.8 L403.6,51.8 L404.5,51.8 L405.5,51.8 L406.5,51.8 L407.5,51.8 L408.5,51.8 L409.4,51.8 L410.4,51.8 L411.4,51.8 L412.4,51.8 L413.3,51.8 L414.3,51.8 L415.3,51.8 L416.3,51.8 L417.3,51.9 L418.3,52.0 L419.3,52.1 L420.3,52.3 L421.3,52.5 L422.3,52.7 L423.3,52.9 L424.3,53.0 L425.3,53.2 L426.3,53.4 L427.2,53.5 L428.2,53.7 L429.2,53.8 L430.2,54.0 L431.1,54.1 L432.1,54.3 L433.1,54.5 L434.1,54.7 L435.1,54.9 L436.0,55.1 L437.0,55.3 L437.9,55.5 L438.8,55.8 L439.8,56.1 L440.7,56.4 L441.6,56.7 L442.5,57.0 L443.5,57.4 L444.4,57.8 L445.3,58.2 L446.3,58.7 L447.2,59.1 L448.2,59.7 L449.1,60.3 L450.1,60.9 L451.0,61.6 L452.0,62.3 L452.8,63.0 L453.7,63.8 L454.5,64.7 L455.4,65.6 L456.2,66.6 L457.0,67.6 L457.9,68.7 L458.7,69.8 L459.3,70.6 L459.9,71.5 L460.5,72.4 L461.1,73.3 L461.7,74.3 L462.3,75.2 L462.9,76.3 L463.5,77.3 L464.1,78.4 L464.7,79.5 L465.3,80.7 L465.7,81.5 L466.1,82.4 L466.6,83.3 L467.0,84.2 L467.4,85.2 L467.8,86.2 L468.2,87.2 L468.6,88.2 L469.1,89.2 L469.5,90.2 L469.9,91.3 L470.3,92.3 L470.7,93.2 L471.1,94.2 L471.4,95.2 L471.8,96.2 L472.2,97.2 L472.6,98.1 L472.9,99.1 L473.3,100.0 L473.7,101.0 L474.1,102.0 L474.5,103.0 L474.9,104.0 L475.4,105.0 L475.8,105.9 L476.2,106.8 L476.6,107.6 L477.0,108.3 L477.8,109.6 L478.7,110.7 L479.5,111.7 L480.3,112.7 L481.2,113.5 L482.0,114.2 L483.0,114.9 L483.9,115.5 L484.9,116.1 L485.8,116.6 L486.8,117.1 L487.7,117.6 L488.7,118.0 L489.6,118.4 L490.6,118.8 L491.5,119.1 L492.5,119.5 L493.4,119.8 L494.4,120.0 L495.3,120.3 L496.3,120.5 L497.2,120.8 L498.2,121.0 L499.1,121.2 L500.1,121.3 L501.0,121.5 L502.0,121.7 L502.9,121.9 L503.9,122.1 L504.8,122.3 L505.8,122.5 L506.7,122.7 L507.6,122.9 L508.6,123.0 L509.5,123.2 L510.5,123.4 L511.4,123.5 L512.4,123.6 L513.3,123.7 L514.3,123.8 L515.3,123.8 L516.3,123.9 L517.3,124.0 L518.3,124.0 L519.3,124.1 L520.3,124.1 L521.3,124.1 L522.3,124.2 L523.3,124.2 L524.3,124.3 L525.3,124.3 L526.3,124.3 L527.3,124.4 L528.3,124.4 L529.3,124.5 L530.3,124.5 L531.3,124.6 L532.3,124.6 L533.3,124.7 L534.3,124.8 L535.2,124.8 L536.2,124.9 L537.1,125.0 L538.1,125.1 L539.0,125.2 L540.0,125.3 L541.0,125.4 L541.9,125.6 L542.9,125.7 L543.8,125.8 L544.8,126.0 L545.7,126.1 L546.7,126.3 L547.7,126.5 L548.6,126.7 L549.6,126.9 L550.5,127.2 L551.5,127.5 L552.4,127.8 L553.4,128.2 L554.3,128.5 L555.2,128.9 L556.2,129.3 L557.1,129.6 L558.1,130.0 L559.0,130.4 L560.0,130.8 L561.0,131.2 L562.0,131.6 L562.9,132.1 L563.9,132.5 L564.9,133.0 L565.9,133.5 L566.8,134.0 L567.8,134.5 L568.8,135.1 L569.8,135.6 L570.7,136.1 L571.7,136.7 L572.7,137.3 L573.6,137.9 L574.6,138.5 L575.6,139.1 L576.5,139.7 L577.5,140.4 L578.5,141.0 L579.4,141.7 L580.4,142.3 L581.4,143.0 L582.3,143.6 L583.3,144.2 L584.3,144.8 L585.3,145.5 L586.3,146.1 L587.3,146.7 L588.3,147.3 L589.3,147.9 L590.3,148.5 L591.3,149.1 L592.3,149.6 L593.3,150.0 L594.2,150.4 L595.2,150.8 L596.1,151.1 L597.0,151.5 L598.0,151.8 L598.9,152.1 L599.8,152.4 L600.8,152.6 L601.7,152.8 L602.6,153.0 L603.5,153.1 L604.5,153.3 L605.4,153.4 L606.3,153.5 L607.2,153.6 L608.2,153.7 L609.1,153.7 L610.0,153.8 L611.0,153.8 L611.9,153.8 L612.9,153.8 L613.8,153.8 L614.8,153.8 L615.7,153.8 L616.7,153.8 L617.7,153.8 L618.7,153.8 L619.6,153.8 L620.6,153.8 L621.6,153.8 L622.6,153.9 L623.5,153.9 L624.5,154.0 L625.5,154.0 L626.5,154.0 L627.4,154.1 L628.4,154.1 L629.4,154.1 L630.4,154.2 L631.3,154.2 L632.3,154.2 L633.3,154.2 L634.3,154.2 L635.2,154.2 L636.2,154.2 L637.2,154.2 L638.1,154.2 L639.1,154.2 L640.1,154.2 L641.0,154.2 L642.0,154.2 L643.0,154.2 L644.0,154.2 L644.9,154.2 L645.9,154.2 L646.9,154.2 L647.8,154.2 L648.8,154.2 L649.8,154.2 L650.7,154.2 L651.7,154.2" fill="none" stroke="#1f9a2a" stroke-width="1.6" stroke-linejoin="round" stroke-linecap="round"/>
<path d="M385.0,99.0 L385.1,100.0 L385.3,100.8 L386.1,102.4 L387.0,103.3 L387.8,103.7 L388.6,103.9 L389.5,104.0 L390.3,104.1 L391.2,104.2 L392.0,104.2 L393.0,104.2 L393.9,104.1 L394.9,104.0 L395.8,103.9 L396.8,103.8 L397.7,103.7 L398.7,103.7 L399.7,103.8 L400.7,103.9 L401.7,104.0 L402.7,104.1 L403.7,104.2 L404.7,104.1 L405.7,103.8 L406.7,103.4 L407.7,103.1 L408.7,103.0 L409.6,103.0 L410.6,103.0 L411.5,103.1 L412.5,103.1 L413.4,103.1 L414.4,103.2 L415.3,103.3 L416.1,103.7 L417.0,104.6 L417.9,105.4 L418.7,105.8 L419.1,105.5 L419.6,104.6 L420.0,103.3 L420.1,102.8 L420.2,102.1 L420.3,101.2 L420.4,100.2 L420.5,99.1 L420.6,98.0 L420.7,97.3 L420.7,96.5 L420.8,95.5 L420.8,94.5 L420.9,93.4 L421.0,92.2 L421.0,91.0 L421.1,89.7 L421.1,88.4 L421.2,87.1 L421.2,85.8 L421.3,84.5 L421.4,83.2 L421.4,82.0 L421.5,80.8 L421.5,79.7 L421.6,78.6 L421.6,77.7 L421.7,76.9 L421.8,76.2 L421.8,75.6 L421.9,75.2 L421.9,74.9 L422.0,74.8 L422.1,74.9 L422.1,75.1 L422.2,75.5 L422.2,76.1 L422.3,76.7 L422.4,77.5 L422.4,78.4 L422.5,79.3 L422.5,80.4 L422.6,81.5 L422.6,82.7 L422.7,83.9 L422.8,85.2 L422.8,86.5 L422.9,87.8 L422.9,89.1 L423.0,90.3 L423.0,91.6 L423.1,92.8 L423.2,94.0 L423.2,95.1 L423.3,96.2 L423.3,97.1 L423.4,98.0 L423.5,99.1 L423.6,100.2 L423.6,101.4 L423.7,102.5 L423.8,103.6 L423.9,104.7 L423.9,105.7 L424.0,106.7 L424.1,107.7 L424.2,108.6 L424.3,109.5 L424.3,110.3 L424.4,111.0 L424.5,111.7 L424.7,113.1 L424.9,114.4 L425.0,115.8 L425.2,117.0 L425.4,118.2 L425.6,119.4 L425.8,120.4 L425.9,121.4 L426.1,122.3 L426.3,123.0 L426.5,123.7 L426.6,124.3 L426.8,124.7 L427.0,125.0 L427.9,125.9 L428.7,126.3 L429.2,126.0 L429.8,125.2 L430.4,124.2 L430.9,123.0 L431.4,121.8 L432.0,120.8 L432.7,119.8 L433.4,118.8 L434.1,117.9 L434.9,117.0 L435.6,116.1 L436.3,115.2 L437.0,114.2 L437.6,113.2 L438.2,112.1 L438.8,110.9 L439.4,109.8 L440.0,108.9 L440.6,108.2 L441.2,108.0 L442.1,108.0 L443.1,108.0 L444.0,108.1 L444.9,108.2 L445.9,108.2 L446.8,108.3 L447.8,108.3 L448.7,108.3 L449.6,108.3 L450.6,108.3 L451.5,108.3 L452.5,108.3 L453.4,108.3 L454.4,108.3 L455.3,108.3 L456.2,108.3 L457.2,108.2 L458.1,108.1 L459.0,108.0 L460.0,107.8 L460.9,107.6 L461.8,107.4 L462.8,107.2 L463.7,107.0 L464.7,106.7 L465.7,106.4 L466.7,106.0 L467.7,105.6 L468.7,105.3 L469.6,105.0 L470.5,104.7 L471.5,104.5 L472.4,104.3 L473.3,104.2 L474.0,104.6 L474.6,105.6 L475.3,106.7 L475.7,107.4 L476.1,108.4 L476.4,109.5 L476.8,110.7 L477.2,111.9 L477.6,113.0 L477.9,114.0 L478.3,114.6 L478.7,115.0 L479.7,115.4 L480.7,115.8 L481.7,116.0 L482.7,116.1 L483.7,116.2 L484.6,116.0 L485.6,115.6 L486.5,114.9 L487.5,114.1 L488.4,113.3 L489.4,112.4 L490.3,111.7 L491.2,111.0 L492.2,110.3 L493.1,109.6 L494.0,108.9 L495.0,108.2 L495.9,107.5 L496.8,106.9 L497.8,106.3 L498.7,105.8 L499.7,105.4 L500.7,105.0 L501.7,104.5 L502.5,103.9 L503.4,103.2 L504.2,102.3 L505.0,101.3 L505.8,100.2 L506.6,99.2 L507.5,98.2 L508.3,97.3 L509.2,96.2 L510.2,95.1 L511.1,93.9 L512.0,92.6 L513.0,91.5 L513.9,90.5 L514.8,89.7 L515.8,89.2 L516.7,89.0 L517.5,89.0 L518.4,89.1 L519.2,89.2 L520.0,89.3 L521.0,89.8 L522.0,90.7 L523.0,91.7 L524.0,92.7 L525.0,93.2 L525.8,93.4 L526.6,93.5 L527.5,93.6 L528.3,93.7 L529.3,94.0 L530.2,94.4 L531.2,94.8 L532.1,95.4 L533.1,96.0 L534.0,96.6 L535.0,97.3 L536.0,98.2 L536.9,99.4 L537.9,100.8 L538.9,102.0 L539.8,102.9 L540.8,103.2 L541.8,103.2 L542.8,103.1 L543.8,102.9 L544.7,102.7 L545.7,102.5 L546.7,102.3 L547.6,102.1 L548.5,101.8 L549.5,101.4 L550.4,101.0 L551.3,100.6 L552.2,100.2 L553.2,99.8 L554.1,99.4 L555.0,99.0 L556.0,98.7 L557.0,98.4 L558.0,98.0 L559.0,97.7 L560.0,97.3 L560.8,96.8 L561.6,96.1 L562.5,95.5 L563.3,95.2 L564.3,95.3 L565.3,95.6 L566.3,96.1 L567.3,96.7 L568.3,97.3 L569.0,98.0 L569.7,98.9 L570.3,100.0 L571.0,100.9 L571.7,101.5 L572.5,101.9 L573.4,102.2 L574.2,102.3 L575.0,102.0 L575.9,101.3 L576.7,100.6 L577.5,100.3 L578.3,100.5 L579.2,101.0 L580.0,101.6 L580.9,102.1 L581.7,102.3 L582.6,102.3 L583.6,102.3 L584.5,102.3 L585.5,102.3 L586.4,102.3 L587.4,102.3 L588.3,102.3 L589.3,102.2 L590.3,102.0 L591.3,101.8 L592.3,101.6 L593.3,101.5 L594.3,101.6 L595.3,101.8 L596.3,102.0 L597.3,102.2 L598.3,102.3 L599.1,101.8 L600.0,100.7 L600.5,100.0 L600.9,99.1 L601.4,98.1 L601.9,97.0 L602.4,95.9 L602.8,94.9 L603.3,94.0 L604.0,93.0 L604.7,92.1 L605.4,91.3 L606.1,90.4 L606.8,89.4 L607.5,88.2 L607.8,87.4 L608.1,86.3 L608.5,85.1 L608.8,83.8 L609.1,82.5 L609.4,81.3 L609.8,80.3 L610.1,79.6 L610.4,79.4 L611.2,79.7 L612.1,80.2 L612.6,80.8 L613.1,81.8 L613.6,82.8 L614.1,83.7 L614.6,84.4 L615.6,85.1 L616.5,85.7 L617.5,86.1 L618.5,86.5 L619.5,86.8 L620.5,87.1 L621.5,87.4 L622.5,87.5 L623.5,87.6 L624.4,87.6 L625.4,87.7 L626.3,87.7 L627.3,87.7 L628.2,87.7 L629.2,87.8 L630.0,87.6 L630.8,87.3 L631.7,86.9 L632.5,86.6 L633.3,86.5 L634.1,86.6 L635.0,86.9 L635.8,87.1 L636.7,87.4 L637.5,87.5 L638.5,87.5 L639.4,87.5 L640.4,87.4 L641.4,87.3 L642.3,87.3 L643.3,87.2 L644.1,87.1 L645.0,86.9 L645.8,86.7 L646.7,86.6 L647.5,86.5 L648.3,86.5 L649.2,86.6 L650.0,86.7 L650.9,86.8 L651.7,86.9" fill="none" stroke="#ff2020" stroke-width="1.5" stroke-linejoin="round" stroke-linecap="round"/>
<path d="M384.5,62.3 L384.9,61.3 L385.3,60.7 L386.3,60.7 L387.2,60.7 L388.2,60.7 L389.1,60.7 L390.1,60.7 L391.0,60.7 L392.0,60.7 L393.0,60.7 L394.0,60.7 L395.0,60.6 L396.0,60.6 L397.0,60.5 L398.0,60.4 L399.0,60.4 L400.0,60.3 L401.0,60.3 L402.0,60.3 L402.9,60.3 L403.9,60.3 L404.9,60.3 L405.8,60.3 L406.8,60.3 L407.7,60.4 L408.6,60.4 L409.6,60.4 L410.6,60.5 L411.5,60.5 L412.4,60.5 L413.4,60.6 L414.4,60.6 L415.3,60.7 L416.3,60.8 L417.2,61.1 L418.2,61.5 L419.1,61.9 L420.1,62.4 L421.0,62.8 L422.0,63.2 L423.0,63.7 L424.0,64.2 L425.0,64.7 L426.0,65.1 L427.0,65.2 L428.0,65.1 L429.0,64.9 L430.0,64.6 L431.0,64.4 L432.0,64.3 L432.8,64.3 L433.6,64.5 L434.5,64.6 L435.3,64.8 L436.3,65.2 L437.2,65.8 L438.2,66.7 L439.1,67.7 L440.1,68.7 L441.0,69.7 L442.0,70.7 L443.0,71.6 L443.9,72.4 L444.9,73.3 L445.8,74.2 L446.8,75.2 L447.7,76.2 L448.7,77.3 L449.4,78.1 L450.0,79.0 L450.7,79.9 L451.3,80.9 L452.0,81.9 L452.7,82.9 L453.3,84.0 L454.0,85.0 L454.6,86.2 L455.3,87.3 L455.8,88.2 L456.3,89.1 L456.8,90.0 L457.3,91.0 L457.8,92.0 L458.3,93.0 L458.8,94.1 L459.3,95.1 L459.8,96.2 L460.3,97.3 L460.7,98.2 L461.1,99.0 L461.5,99.9 L461.9,100.9 L462.3,102.0 L462.6,102.7 L462.8,103.6 L463.1,104.4 L463.3,105.3 L463.6,106.3 L463.8,107.3 L464.1,108.3 L464.3,109.3 L464.6,110.3 L464.8,111.3 L465.1,112.3 L465.3,113.3 L465.5,114.3 L465.8,115.3 L466.0,116.3 L466.3,117.4 L466.5,118.5 L466.8,119.6 L467.0,120.7 L467.2,121.7 L467.5,122.7 L467.7,123.7 L468.0,124.6 L468.2,125.4 L468.5,126.1 L468.7,126.7 L469.2,127.9 L469.7,129.0 L470.2,129.9 L470.7,130.6 L471.2,130.8 L471.7,130.6 L472.2,130.0 L472.7,129.1 L473.2,128.0 L473.7,126.7 L473.8,126.2 L474.0,125.7 L474.1,124.9 L474.3,124.1 L474.4,123.2 L474.6,122.3 L474.7,121.2 L474.9,120.1 L475.0,119.0 L475.2,117.8 L475.3,116.6 L475.5,115.4 L475.6,114.3 L475.8,113.1 L475.9,112.0 L476.1,111.0 L476.2,110.0 L476.4,109.0 L476.5,107.9 L476.7,106.9 L476.8,105.8 L477.0,104.8 L477.2,103.8 L477.3,102.8 L477.5,101.8 L477.6,100.9 L477.8,100.0 L478.0,98.9 L478.2,97.7 L478.5,96.7 L478.7,95.6 L478.9,94.6 L479.1,93.7 L479.3,92.7 L479.6,91.8 L479.8,90.9 L480.0,90.0 L480.3,88.9 L480.6,87.8 L480.8,86.6 L481.1,85.5 L481.4,84.4 L481.6,83.4 L481.9,82.3 L482.2,81.4 L482.5,80.5 L482.8,79.7 L483.0,78.9 L483.3,78.3 L484.0,77.0 L484.7,75.9 L485.3,75.0 L486.0,74.1 L486.7,73.3 L487.6,72.2 L488.5,71.1 L489.5,70.2 L490.4,69.6 L491.2,69.3 L492.1,69.0 L492.9,68.8 L493.8,68.3 L494.7,67.6 L495.7,67.0 L496.6,66.3 L497.5,65.8 L498.5,65.4 L499.4,65.0 L500.4,64.6 L501.4,64.3 L502.3,64.0 L503.3,63.8 L504.2,63.5 L505.2,63.3 L506.1,63.1 L507.0,62.9 L508.0,62.7 L508.9,62.5 L509.8,62.4 L510.8,62.2 L511.7,62.1 L512.5,62.0 L513.4,61.8 L514.2,61.7 L515.0,61.6 L515.9,61.5 L516.7,61.5 L517.7,61.5 L518.6,61.5 L519.6,61.5 L520.5,61.6 L521.5,61.6 L522.4,61.6 L523.4,61.7 L524.3,61.7 L525.2,61.8 L526.2,61.8 L527.1,61.9 L528.1,62.0 L529.0,62.0 L530.0,62.1 L531.0,62.2 L531.9,62.3 L532.9,62.4 L533.8,62.6 L534.8,62.8 L535.7,62.9 L536.6,63.2 L537.6,63.4 L538.5,63.6 L539.5,63.8 L540.4,64.1 L541.4,64.3 L542.3,64.6 L543.3,64.8 L544.3,65.1 L545.2,65.3 L546.2,65.6 L547.1,65.9 L548.1,66.2 L549.0,66.6 L550.0,66.9 L551.0,67.2 L551.9,67.6 L552.9,67.9 L553.8,68.3 L554.8,68.6 L555.7,69.0 L556.7,69.3 L557.7,69.6 L558.6,70.0 L559.6,70.3 L560.5,70.7 L561.5,71.0 L562.4,71.4 L563.4,71.7 L564.3,72.1 L565.2,72.4 L566.2,72.8 L567.1,73.1 L568.1,73.4 L569.0,73.7 L570.0,74.0 L571.0,74.3 L572.0,74.6 L573.0,74.9 L574.0,75.2 L575.0,75.5 L576.0,75.7 L577.0,76.0 L578.0,76.2 L579.0,76.4 L580.0,76.5 L581.0,76.6 L581.9,76.7 L582.9,76.8 L583.8,76.9 L584.8,76.9 L585.7,77.0 L586.7,77.0 L587.6,76.9 L588.6,76.7 L589.5,76.5 L590.5,76.1 L591.4,75.7 L592.4,75.3 L593.3,74.8 L594.3,74.3 L595.2,73.6 L596.2,72.8 L597.1,71.9 L598.1,71.0 L599.0,70.1 L600.0,69.2 L600.8,68.4 L601.7,67.5 L602.5,66.5 L603.4,65.6 L604.2,64.8 L605.0,64.0 L605.8,63.2 L606.7,62.5 L607.5,61.9 L608.3,61.5 L609.3,61.2 L610.2,60.9 L611.2,60.7 L612.1,60.5 L613.1,60.4 L614.0,60.3 L615.0,60.2 L616.0,60.3 L617.0,60.3 L618.0,60.3 L619.0,60.4 L620.0,60.5 L621.0,60.5 L622.0,60.6 L623.0,60.7 L624.0,60.7 L625.0,60.7 L626.0,60.7 L626.9,60.7 L627.9,60.7 L628.8,60.7 L629.8,60.6 L630.8,60.6 L631.7,60.6 L632.7,60.6 L633.7,60.5 L634.6,60.5 L635.6,60.5 L636.5,60.5 L637.5,60.5 L638.5,60.5 L639.5,60.5 L640.4,60.6 L641.4,60.6 L642.4,60.7 L643.4,60.7 L644.4,60.8 L645.4,60.9 L646.3,60.9 L647.3,61.0 L648.3,61.0 L649.3,61.1 L650.3,61.1 L651.2,61.1 L651.3,60.9 L651.4,60.3 L651.4,59.5 L651.5,58.4 L651.5,57.3 L651.6,56.1 L651.6,55.0 L651.7,54.0" fill="none" stroke="#3030ac" stroke-width="1.5" stroke-linejoin="round" stroke-linecap="round"/>
<line x1="28.60" y1="332.30" x2="299.20" y2="332.30" stroke="#7c7c7c" stroke-width="1.1"/>
<line x1="37.88" y1="332.30" x2="37.88" y2="333.40" stroke="#b8b8b8" stroke-width="0.8"/>
<line x1="55.20" y1="332.30" x2="55.20" y2="333.80" stroke="#909090" stroke-width="0.9"/>
<line x1="72.52" y1="332.30" x2="72.52" y2="333.40" stroke="#b8b8b8" stroke-width="0.8"/>
<line x1="89.83" y1="332.30" x2="89.83" y2="333.80" stroke="#909090" stroke-width="0.9"/>
<line x1="107.15" y1="332.30" x2="107.15" y2="333.40" stroke="#b8b8b8" stroke-width="0.8"/>
<line x1="124.47" y1="332.30" x2="124.47" y2="333.80" stroke="#909090" stroke-width="0.9"/>
<line x1="141.78" y1="332.30" x2="141.78" y2="333.40" stroke="#b8b8b8" stroke-width="0.8"/>
<line x1="159.10" y1="332.30" x2="159.10" y2="333.80" stroke="#909090" stroke-width="0.9"/>
<line x1="176.42" y1="332.30" x2="176.42" y2="333.40" stroke="#b8b8b8" stroke-width="0.8"/>
<line x1="193.73" y1="332.30" x2="193.73" y2="333.80" stroke="#909090" stroke-width="0.9"/>
<line x1="211.05" y1="332.30" x2="211.05" y2="333.40" stroke="#b8b8b8" stroke-width="0.8"/>
<line x1="228.37" y1="332.30" x2="228.37" y2="333.80" stroke="#909090" stroke-width="0.9"/>
<line x1="245.68" y1="332.30" x2="245.68" y2="333.40" stroke="#b8b8b8" stroke-width="0.8"/>
<line x1="263.00" y1="332.30" x2="263.00" y2="333.80" stroke="#909090" stroke-width="0.9"/>
<line x1="280.32" y1="332.30" x2="280.32" y2="333.40" stroke="#b8b8b8" stroke-width="0.8"/>
<line x1="297.63" y1="332.30" x2="297.63" y2="333.80" stroke="#909090" stroke-width="0.9"/>
<line x1="28.60" y1="216.00" x2="28.60" y2="332.30" stroke="#8ccf8c" stroke-width="1.35"/>
<line x1="299.20" y1="216.00" x2="299.20" y2="332.30" stroke="#ffa4ac" stroke-width="1.7"/>
<line x1="323.90" y1="216.00" x2="323.90" y2="332.30" stroke="#a0a0e2" stroke-width="1.3"/>
<text transform="translate(25.50,226.22) scale(1,0.97)" font-size="10" text-anchor="end" font-family="Liberation Sans" fill="#222" stroke="#222" stroke-width="0.28">100</text>
<text transform="translate(25.50,246.87) scale(1,0.97)" font-size="10" text-anchor="end" font-family="Liberation Sans" fill="#222" stroke="#222" stroke-width="0.28">80</text>
<text transform="translate(25.50,267.52) scale(1,0.97)" font-size="10" text-anchor="end" font-family="Liberation Sans" fill="#222" stroke="#222" stroke-width="0.28">60</text>
<text transform="translate(25.50,288.17) scale(1,0.97)" font-size="10" text-anchor="end" font-family="Liberation Sans" fill="#222" stroke="#222" stroke-width="0.28">40</text>
<text transform="translate(25.50,308.82) scale(1,0.97)" font-size="10" text-anchor="end" font-family="Liberation Sans" fill="#222" stroke="#222" stroke-width="0.28">20</text>
<text transform="translate(25.50,329.47) scale(1,0.97)" font-size="10" text-anchor="end" font-family="Liberation Sans" fill="#222" stroke="#222" stroke-width="0.28">0</text>
<text transform="translate(55.20,343.47) scale(1,0.97)" font-size="10" text-anchor="middle" font-family="Liberation Sans" fill="#222" stroke="#222" stroke-width="0.28">100</text>
<text transform="translate(89.83,343.47) scale(1,0.97)" font-size="10" text-anchor="middle" font-family="Liberation Sans" fill="#222" stroke="#222" stroke-width="0.28">200</text>
<text transform="translate(124.47,343.47) scale(1,0.97)" font-size="10" text-anchor="middle" font-family="Liberation Sans" fill="#222" stroke="#222" stroke-width="0.28">300</text>
<text transform="translate(159.10,343.47) scale(1,0.97)" font-size="10" text-anchor="middle" font-family="Liberation Sans" fill="#222" stroke="#222" stroke-width="0.28">400</text>
<text transform="translate(193.73,343.47) scale(1,0.97)" font-size="10" text-anchor="middle" font-family="Liberation Sans" fill="#222" stroke="#222" stroke-width="0.28">500</text>
<text transform="translate(228.37,343.47) scale(1,0.97)" font-size="10" text-anchor="middle" font-family="Liberation Sans" fill="#222" stroke="#222" stroke-width="0.28">600</text>
<text transform="translate(263.00,343.47) scale(1,0.97)" font-size="10" text-anchor="middle" font-family="Liberation Sans" fill="#222" stroke="#222" stroke-width="0.28">700</text>
<text transform="translate(302.00,231.47) scale(1,0.97)" font-size="10" text-anchor="start" font-family="Liberation Sans" fill="#222" stroke="#222" stroke-width="0.28">1.2</text>
<text transform="translate(302.00,242.97) scale(1,0.97)" font-size="10" text-anchor="start" font-family="Liberation Sans" fill="#222" stroke="#222" stroke-width="0.28">1.0</text>
<text transform="translate(302.00,254.47) scale(1,0.97)" font-size="10" text-anchor="start" font-family="Liberation Sans" fill="#222" stroke="#222" stroke-width="0.28">0.8</text>
<text transform="translate(302.00,266.22) scale(1,0.97)" font-size="10" text-anchor="start" font-family="Liberation Sans" fill="#222" stroke="#222" stroke-width="0.28">0.6</text>
<text transform="translate(302.00,277.97) scale(1,0.97)" font-size="10" text-anchor="start" font-family="Liberation Sans" fill="#222" stroke="#222" stroke-width="0.28">0.4</text>
<text transform="translate(302.00,289.47) scale(1,0.97)" font-size="10" text-anchor="start" font-family="Liberation Sans" fill="#222" stroke="#222" stroke-width="0.28">0.2</text>
<text transform="translate(302.00,301.47) scale(1,0.97)" font-size="10" text-anchor="start" font-family="Liberation Sans" fill="#222" stroke="#222" stroke-width="0.28">0.0</text>
<text transform="translate(302.00,313.22) scale(1,0.97)" font-size="10" text-anchor="start" font-family="Liberation Sans" fill="#222" stroke="#222" stroke-width="0.28">-0.2</text>
<text transform="translate(302.00,325.22) scale(1,0.97)" font-size="10" text-anchor="start" font-family="Liberation Sans" fill="#222" stroke="#222" stroke-width="0.28">-0.4</text>
<text transform="translate(325.50,229.97) scale(1,0.97)" font-size="10" text-anchor="start" font-family="Liberation Sans" fill="#222" stroke="#222" stroke-width="0.28">0</text>
<line x1="323.90" y1="226.50" x2="325.50" y2="226.50" stroke="#8080b8" stroke-width="0.9"/>
<text transform="translate(325.50,243.47) scale(1,0.97)" font-size="10" text-anchor="start" font-family="Liberation Sans" fill="#222" stroke="#222" stroke-width="0.28">-2</text>
<line x1="323.90" y1="240.00" x2="325.50" y2="240.00" stroke="#8080b8" stroke-width="0.9"/>
<text transform="translate(325.50,256.97) scale(1,0.97)" font-size="10" text-anchor="start" font-family="Liberation Sans" fill="#222" stroke="#222" stroke-width="0.28">-4</text>
<line x1="323.90" y1="253.50" x2="325.50" y2="253.50" stroke="#8080b8" stroke-width="0.9"/>
<text transform="translate(325.50,269.97) scale(1,0.97)" font-size="10" text-anchor="start" font-family="Liberation Sans" fill="#222" stroke="#222" stroke-width="0.28">-6</text>
<line x1="323.90" y1="266.50" x2="325.50" y2="266.50" stroke="#8080b8" stroke-width="0.9"/>
<text transform="translate(325.50,282.47) scale(1,0.97)" font-size="10" text-anchor="start" font-family="Liberation Sans" fill="#222" stroke="#222" stroke-width="0.28">-8</text>
<line x1="323.90" y1="279.00" x2="325.50" y2="279.00" stroke="#8080b8" stroke-width="0.9"/>
<text transform="translate(325.50,295.47) scale(1,0.97)" font-size="10" text-anchor="start" font-family="Liberation Sans" fill="#222" stroke="#222" stroke-width="0.28">-10</text>
<line x1="323.90" y1="292.00" x2="325.50" y2="292.00" stroke="#8080b8" stroke-width="0.9"/>
<text transform="translate(325.50,308.97) scale(1,0.97)" font-size="10" text-anchor="start" font-family="Liberation Sans" fill="#222" stroke="#222" stroke-width="0.28">-12</text>
<line x1="323.90" y1="305.50" x2="325.50" y2="305.50" stroke="#8080b8" stroke-width="0.9"/>
<text transform="translate(325.50,321.97) scale(1,0.97)" font-size="10" text-anchor="start" font-family="Liberation Sans" fill="#222" stroke="#222" stroke-width="0.28">-14</text>
<line x1="323.90" y1="318.50" x2="325.50" y2="318.50" stroke="#8080b8" stroke-width="0.9"/>
<text transform="translate(325.50,334.97) scale(1,0.97)" font-size="10" text-anchor="start" font-family="Liberation Sans" fill="#222" stroke="#222" stroke-width="0.28">-16</text>
<line x1="323.90" y1="331.50" x2="325.50" y2="331.50" stroke="#8080b8" stroke-width="0.9"/>
<text transform="translate(15.00,201.97) scale(1,0.97)" font-size="10.2" text-anchor="start" font-family="Liberation Sans" fill="#222" stroke="#222" stroke-width="0.28">TG /%</text>
<text transform="translate(274.70,190.67) scale(1,0.97)" font-size="10.2" text-anchor="start" font-family="Liberation Sans" fill="#222" stroke="#222" stroke-width="0.28">c-DTA® /K</text>
<text transform="translate(293.00,202.27) scale(1,0.97)" font-size="10.2" text-anchor="start" font-family="Liberation Sans" fill="#222" stroke="#222" stroke-width="0.28">DTG /(%/min)</text>
<path d="M275.00,207.80 L275.00,215.90" stroke="#2a2a2a" stroke-width="0.8"/>
<path d="M273.90,214.00 L275.00,217.00 L276.10,214.00 Z" fill="#2a2a2a" stroke="#2a2a2a" stroke-width="0.4"/>
<text transform="translate(280.50,215.87) scale(1,0.97)" font-size="10.2" text-anchor="start" font-family="Liberation Sans" fill="#222" stroke="#222" stroke-width="0.28">exo</text>
<text transform="translate(124.70,353.97) scale(1,0.97)" font-size="10.4" text-anchor="start" font-family="Liberation Sans" fill="#222" stroke="#222" stroke-width="0.28">Temperature /°C</text>
<text transform="translate(154.00,214.20) scale(1,1.0)" font-size="20" text-anchor="start" font-family="Liberation Serif" fill="#161616" stroke="#161616" stroke-width="0.35">c)</text>
<rect x="294.60" y="320.40" width="2.4" height="2.4" fill="#c4dcc4"/>
<rect x="294.60" y="293.50" width="2.4" height="2.4" fill="#f8c8c0"/>
<rect x="294.60" y="221.70" width="2.4" height="2.4" fill="#c4c4dc"/>
<path d="M30.0,222.7 L31.0,222.7 L32.0,222.7 L33.0,222.7 L34.0,222.7 L35.0,222.7 L36.0,222.7 L37.0,222.7 L37.9,222.7 L38.9,222.7 L39.9,222.7 L40.9,222.7 L41.9,222.7 L42.9,222.7 L43.9,222.7 L44.9,222.7 L45.9,222.7 L46.9,222.7 L47.9,222.7 L48.9,222.7 L49.9,222.7 L50.9,222.7 L51.9,222.7 L52.8,222.7 L53.8,222.7 L54.8,222.7 L55.8,222.7 L56.8,222.7 L57.8,222.7 L58.8,222.7 L59.8,222.7 L60.8,222.7 L61.8,222.7 L62.8,222.7 L63.8,222.7 L64.8,222.7 L65.8,222.7 L66.8,222.7 L67.7,222.7 L68.7,222.7 L69.7,222.7 L70.7,222.7 L71.7,222.7 L72.7,222.7 L73.7,222.7 L74.7,222.7 L75.7,222.7 L76.7,222.7 L77.7,222.7 L78.7,222.7 L79.7,222.8 L80.7,222.8 L81.7,222.8 L82.7,222.9 L83.7,222.9 L84.7,222.9 L85.7,223.0 L86.7,223.0 L87.7,223.1 L88.7,223.1 L89.7,223.2 L90.7,223.3 L91.7,223.3 L92.7,223.4 L93.7,223.4 L94.7,223.5 L95.7,223.6 L96.7,223.7 L97.7,223.8 L98.7,223.9 L99.7,224.0 L100.7,224.1 L101.7,224.3 L102.7,224.4 L103.7,224.6 L104.7,224.8 L105.6,225.0 L106.6,225.3 L107.5,225.6 L108.5,225.9 L109.4,226.3 L110.4,226.8 L111.3,227.3 L112.2,227.9 L113.2,228.7 L114.1,229.6 L115.0,230.6 L115.7,231.4 L116.3,232.4 L117.0,233.4 L117.6,234.5 L118.3,235.6 L118.9,236.5 L119.4,237.4 L120.0,238.3 L120.6,239.4 L121.0,240.1 L121.3,240.9 L121.7,241.8 L122.1,242.7 L122.4,243.8 L122.8,245.0 L123.0,245.7 L123.2,246.5 L123.3,247.5 L123.5,248.5 L123.7,249.5 L123.9,250.6 L124.0,251.6 L124.2,252.5 L124.4,253.3 L124.7,254.5 L125.0,255.6 L125.2,256.6 L125.5,257.6 L125.8,258.5 L126.1,259.4 L126.4,260.3 L126.7,261.2 L127.0,262.1 L127.2,263.0 L127.5,264.0 L127.8,265.0 L128.0,265.9 L128.3,266.9 L128.5,267.9 L128.8,268.9 L129.0,269.9 L129.3,270.9 L129.5,271.8 L129.8,272.6 L130.0,273.3 L130.5,274.7 L131.1,275.9 L131.6,277.1 L132.1,278.2 L132.7,279.3 L133.2,280.3 L133.7,281.2 L134.3,282.0 L134.8,282.9 L135.3,283.6 L135.9,284.3 L136.4,285.0 L137.3,286.1 L138.3,287.2 L139.2,288.1 L140.2,288.8 L141.1,289.4 L142.1,289.8 L143.1,290.2 L144.0,290.6 L145.0,290.9 L146.0,291.2 L146.9,291.4 L147.9,291.6 L148.9,291.8 L149.8,292.0 L150.8,292.1 L151.7,292.2 L152.6,292.3 L153.5,292.4 L154.5,292.5 L155.4,292.7 L156.3,292.8 L157.3,292.9 L158.2,293.1 L159.2,293.2 L160.1,293.4 L161.1,293.6 L162.0,293.7 L163.0,293.9 L164.0,294.1 L164.9,294.2 L165.9,294.4 L166.8,294.6 L167.8,294.8 L168.7,295.1 L169.7,295.3 L170.7,295.6 L171.6,295.8 L172.6,296.2 L173.6,296.5 L174.5,296.8 L175.5,297.2 L176.5,297.6 L177.4,298.0 L178.4,298.4 L179.4,298.7 L180.3,299.1 L181.3,299.5 L182.3,299.9 L183.3,300.3 L184.2,300.7 L185.2,301.0 L186.2,301.4 L187.2,301.8 L188.2,302.3 L189.2,302.7 L190.1,303.1 L191.1,303.5 L192.1,303.9 L193.1,304.3 L194.1,304.7 L195.1,305.1 L196.0,305.5 L197.0,305.8 L198.0,306.2 L199.0,306.6 L200.0,306.9 L200.9,307.2 L201.9,307.6 L202.9,307.9 L203.9,308.2 L204.9,308.5 L205.9,308.9 L206.8,309.2 L207.8,309.5 L208.8,309.8 L209.8,310.2 L210.8,310.5 L211.8,310.9 L212.7,311.2 L213.7,311.6 L214.7,312.0 L215.6,312.4 L216.6,312.8 L217.5,313.3 L218.5,313.7 L219.4,314.2 L220.4,314.7 L221.3,315.2 L222.3,315.7 L223.2,316.2 L224.2,316.7 L225.2,317.2 L226.1,317.7 L227.1,318.2 L228.0,318.7 L229.0,319.2 L230.0,319.8 L231.0,320.3 L232.0,320.9 L233.0,321.4 L234.0,322.0 L235.0,322.5 L236.0,322.9 L237.0,323.3 L238.0,323.7 L239.0,324.0 L239.9,324.3 L240.9,324.6 L241.8,324.9 L242.8,325.1 L243.7,325.2 L244.7,325.3 L245.7,325.3 L246.6,325.3 L247.6,325.3 L248.6,325.3 L249.6,325.3 L250.5,325.3 L251.5,325.3 L252.5,325.3 L253.4,325.3 L254.4,325.3 L255.4,325.3 L256.4,325.3 L257.3,325.3 L258.3,325.3 L259.3,325.3 L260.2,325.3 L261.2,325.3 L262.2,325.3 L263.1,325.3 L264.1,325.3 L265.1,325.3 L266.1,325.3 L267.0,325.3 L268.0,325.3 L269.0,325.3 L270.0,325.3 L271.0,325.3 L272.0,325.3 L272.9,325.3 L273.9,325.3 L274.9,325.3 L275.9,325.3 L276.9,325.3 L277.9,325.3 L278.9,325.3 L279.9,325.3 L280.9,325.3 L281.9,325.3 L282.9,325.3 L283.8,325.3 L284.8,325.3 L285.8,325.2 L286.8,325.2 L287.8,325.2 L288.8,325.2 L289.8,325.2 L290.8,325.2 L291.8,325.2 L292.8,325.2 L293.7,325.2 L294.7,325.2 L295.7,325.2 L296.7,325.2 L297.7,325.2" fill="none" stroke="#1f9a2a" stroke-width="1.6" stroke-linejoin="round" stroke-linecap="round"/>
<path d="M30.0,292.0 L31.0,292.0 L32.0,292.0 L32.9,292.1 L33.9,292.1 L34.9,292.1 L35.9,292.1 L36.9,292.1 L37.8,292.2 L38.8,292.2 L39.8,292.2 L40.8,292.2 L41.8,292.2 L42.7,292.3 L43.7,292.3 L44.7,292.3 L45.7,292.3 L46.7,292.3 L47.6,292.4 L48.6,292.4 L49.6,292.4 L50.6,292.4 L51.5,292.4 L52.5,292.4 L53.5,292.5 L54.5,292.5 L55.4,292.5 L56.4,292.5 L57.4,292.6 L58.4,292.6 L59.3,292.7 L60.3,292.7 L61.3,292.8 L62.1,293.0 L63.0,293.5 L63.8,294.0 L64.5,294.5 L65.3,295.0 L66.0,295.3 L66.9,294.9 L67.9,293.9 L68.8,292.8 L69.5,292.0 L70.2,291.1 L70.8,290.2 L71.5,289.4 L72.2,288.7 L73.0,288.2 L73.8,287.8 L74.7,287.4 L75.5,286.9 L76.3,286.2 L76.6,285.8 L76.9,285.1 L77.1,284.2 L77.4,283.2 L77.7,282.0 L77.8,281.5 L77.9,280.7 L78.0,279.8 L78.1,278.8 L78.2,277.7 L78.3,276.4 L78.4,275.1 L78.5,273.8 L78.6,272.4 L78.7,271.0 L78.8,269.7 L78.9,268.4 L79.0,267.1 L79.1,266.0 L79.2,265.0 L79.3,264.1 L79.4,263.3 L79.5,262.8 L79.6,262.4 L79.7,262.3 L79.8,262.4 L80.0,262.8 L80.1,263.3 L80.3,264.0 L80.4,264.9 L80.6,265.9 L80.7,267.0 L80.8,268.2 L81.0,269.5 L81.1,270.8 L81.3,272.1 L81.4,273.4 L81.6,274.7 L81.7,276.0 L81.8,276.8 L81.9,277.7 L82.0,278.7 L82.0,279.7 L82.1,280.8 L82.2,281.9 L82.3,283.0 L82.4,284.1 L82.5,285.2 L82.6,286.3 L82.7,287.2 L82.7,288.2 L82.8,289.0 L82.9,289.7 L83.0,290.3 L83.2,291.8 L83.5,293.3 L83.8,294.6 L84.0,295.8 L84.2,296.8 L84.5,297.6 L84.8,298.1 L85.0,298.3 L86.0,298.0 L87.0,297.1 L88.0,296.2 L88.7,295.4 L89.4,294.4 L90.1,293.2 L90.9,292.0 L91.6,291.0 L92.3,290.1 L93.0,289.5 L94.0,289.0 L94.9,288.6 L95.9,288.2 L96.8,287.9 L97.8,287.6 L98.7,287.4 L99.7,287.3 L100.6,287.2 L101.6,287.1 L102.5,287.1 L103.4,287.0 L104.4,287.0 L105.3,286.9 L106.3,286.9 L107.2,286.9 L108.1,286.8 L109.1,286.8 L110.0,286.7 L111.0,286.6 L112.0,286.6 L113.0,286.5 L114.0,286.4 L115.0,286.3 L116.0,286.2 L117.0,286.1 L118.0,286.0 L119.0,285.8 L120.0,285.6 L121.0,285.2 L122.0,284.5 L122.5,283.7 L123.0,282.3 L123.4,281.1 L123.9,280.6 L124.3,280.9 L124.8,281.7 L125.2,282.7 L125.7,283.9 L126.1,285.0 L126.5,285.9 L126.8,286.9 L127.2,287.9 L127.6,288.9 L127.9,289.9 L128.3,290.6 L129.1,292.0 L129.9,293.3 L130.6,294.4 L131.4,295.2 L132.2,295.6 L133.1,295.7 L133.9,295.8 L134.4,295.4 L134.8,294.5 L135.3,293.3 L135.8,291.9 L136.3,290.7 L136.7,289.8 L137.2,289.4 L138.1,289.9 L139.1,291.0 L140.0,292.2 L140.7,293.2 L141.3,294.5 L142.0,295.8 L142.6,296.8 L143.3,297.2 L144.2,296.8 L145.2,295.9 L146.1,295.0 L147.1,294.1 L148.1,293.1 L149.0,292.1 L150.0,291.1 L151.0,289.9 L152.0,288.8 L153.0,288.3 L153.8,288.4 L154.7,288.5 L155.5,288.6 L156.3,288.7 L157.1,288.3 L158.0,287.3 L158.8,286.1 L159.7,284.9 L160.5,284.0 L161.5,283.3 L162.4,282.7 L163.4,282.1 L164.4,281.6 L165.3,281.3 L166.3,281.2 L167.3,281.2 L168.2,281.4 L169.2,281.5 L170.1,281.7 L171.1,281.8 L172.0,282.0 L173.0,282.0 L174.0,282.0 L175.0,281.9 L176.0,281.8 L177.0,281.7 L178.0,281.7 L178.8,281.9 L179.7,282.3 L180.5,283.0 L181.3,283.7 L181.9,284.5 L182.4,285.6 L183.0,286.8 L183.6,288.0 L184.1,288.9 L184.7,289.2 L185.7,289.0 L186.7,288.6 L187.7,288.1 L188.7,287.5 L189.7,287.0 L190.7,286.5 L191.6,285.9 L192.6,285.3 L193.6,284.7 L194.5,284.3 L195.5,284.2 L196.4,284.3 L197.4,284.4 L198.3,284.7 L199.2,285.1 L200.2,285.5 L201.1,286.0 L202.1,286.5 L203.0,287.0 L203.8,287.6 L204.7,288.3 L205.5,289.2 L206.3,290.3 L206.7,290.9 L207.1,291.7 L207.4,292.6 L207.8,293.6 L208.2,294.7 L208.6,295.8 L208.9,296.8 L209.3,297.8 L209.7,298.7 L210.2,299.8 L210.6,300.9 L211.1,302.0 L211.6,303.0 L212.1,303.9 L212.5,304.7 L213.0,305.3 L214.0,306.3 L215.0,307.3 L216.0,308.0 L217.0,308.5 L218.0,308.7 L219.0,308.5 L220.0,308.0 L221.0,307.4 L222.0,306.7 L223.0,306.2 L223.8,305.8 L224.7,305.3 L225.5,304.9 L226.4,304.6 L227.2,304.5 L228.0,304.7 L228.8,305.1 L229.7,305.6 L230.5,306.0 L231.3,306.2 L232.1,306.2 L233.0,306.0 L233.8,305.8 L234.7,305.6 L235.5,305.3 L236.2,304.8 L236.8,303.9 L237.5,302.9 L238.1,301.9 L238.8,301.2 L239.6,300.6 L240.5,300.2 L241.3,299.8 L242.2,299.3 L243.0,298.7 L243.5,298.0 L244.1,297.0 L244.6,295.8 L245.1,294.5 L245.6,293.2 L246.1,292.2 L246.7,291.5 L247.2,291.2 L248.0,291.3 L248.8,291.7 L249.7,292.2 L250.5,292.8 L251.3,293.3 L252.3,293.8 L253.2,294.4 L254.2,295.1 L255.1,295.6 L256.1,296.2 L257.0,296.7 L258.0,297.0 L259.0,297.3 L259.9,297.5 L260.9,297.8 L261.8,298.0 L262.8,298.2 L263.7,298.3 L264.7,298.3 L265.6,298.3 L266.5,298.1 L267.4,298.0 L268.4,297.8 L269.3,297.6 L270.2,297.5 L271.1,297.3 L272.0,297.3 L272.9,297.3 L273.9,297.3 L274.8,297.3 L275.7,297.3 L276.7,297.3 L277.6,297.3 L278.6,297.3 L279.5,297.3 L280.4,297.3 L281.4,297.3 L282.3,297.3 L283.3,297.3 L284.2,297.4 L285.2,297.4 L286.2,297.5 L287.1,297.6 L288.1,297.7 L289.1,297.7 L290.0,297.8 L291.0,297.9 L292.0,298.0 L292.9,298.0 L293.9,298.1 L294.8,298.1 L295.8,298.2 L296.7,298.2 L297.7,298.3" fill="none" stroke="#ff2020" stroke-width="1.5" stroke-linejoin="round" stroke-linecap="round"/>
<path d="M30.0,225.7 L31.0,225.8 L32.0,225.8 L32.9,225.9 L33.9,225.9 L34.9,226.0 L35.9,226.1 L36.9,226.1 L37.8,226.2 L38.8,226.3 L39.8,226.3 L40.8,226.4 L41.8,226.4 L42.7,226.4 L43.7,226.5 L44.7,226.5 L45.7,226.5 L46.7,226.5 L47.7,226.5 L48.7,226.6 L49.7,226.6 L50.7,226.6 L51.7,226.6 L52.7,226.6 L53.7,226.6 L54.7,226.6 L55.7,226.6 L56.7,226.6 L57.7,226.6 L58.7,226.6 L59.7,226.6 L60.7,226.6 L61.7,226.6 L62.7,226.6 L63.7,226.6 L64.7,226.6 L65.7,226.7 L66.7,226.7 L67.7,226.7 L68.7,226.7 L69.7,226.7 L70.7,226.7 L71.7,226.7 L72.7,226.8 L73.7,226.8 L74.7,226.8 L75.5,227.0 L76.3,227.3 L77.2,227.6 L78.0,227.8 L79.0,227.7 L80.0,227.3 L81.0,227.0 L82.0,226.6 L83.0,226.5 L83.9,226.5 L84.8,226.5 L85.8,226.6 L86.7,226.6 L87.6,226.7 L88.5,226.8 L89.5,226.8 L90.4,226.9 L91.3,227.0 L92.2,227.1 L93.2,227.2 L94.1,227.4 L95.0,227.6 L96.0,227.8 L96.9,228.1 L97.8,228.4 L98.8,228.7 L99.7,229.0 L100.6,229.4 L101.6,229.8 L102.5,230.4 L103.5,231.0 L104.4,231.7 L105.4,232.4 L106.3,233.2 L107.0,233.9 L107.7,234.6 L108.4,235.4 L109.2,236.4 L109.9,237.4 L110.6,238.5 L111.3,239.8 L111.6,240.5 L112.0,241.2 L112.3,242.0 L112.6,242.8 L113.0,243.7 L113.3,244.7 L113.7,245.8 L114.0,246.9 L114.3,248.1 L114.7,249.3 L115.0,250.6 L115.2,251.3 L115.3,252.1 L115.5,253.0 L115.7,253.9 L115.8,254.9 L116.0,255.9 L116.2,257.0 L116.3,258.0 L116.5,259.1 L116.7,260.2 L116.8,261.2 L117.0,262.2 L117.2,263.2 L117.3,264.1 L117.5,265.0 L117.7,266.0 L117.9,266.9 L118.1,267.7 L118.3,268.6 L118.6,269.4 L118.8,270.2 L119.0,271.2 L119.2,272.2 L119.4,273.3 L119.5,274.0 L119.7,274.8 L119.8,275.6 L119.9,276.5 L120.0,277.4 L120.2,278.4 L120.3,279.4 L120.4,280.4 L120.5,281.5 L120.7,282.6 L120.8,283.8 L120.9,285.0 L121.0,285.8 L121.1,286.7 L121.1,287.6 L121.2,288.6 L121.3,289.7 L121.4,290.7 L121.5,291.8 L121.5,292.9 L121.6,294.0 L121.7,295.1 L121.8,296.1 L121.9,297.2 L121.9,298.2 L122.0,299.1 L122.1,300.0 L122.2,301.1 L122.3,302.1 L122.4,303.2 L122.5,304.2 L122.6,305.2 L122.7,306.2 L122.8,307.2 L122.9,308.1 L123.0,308.9 L123.1,309.7 L123.2,310.5 L123.3,311.1 L123.5,312.5 L123.7,313.8 L124.0,315.0 L124.2,315.8 L124.4,316.1 L124.6,315.9 L124.8,315.3 L125.0,314.3 L125.2,313.2 L125.5,311.9 L125.7,310.6 L125.9,309.4 L126.1,308.3 L126.3,307.4 L126.5,306.5 L126.7,305.6 L126.9,304.7 L127.0,303.8 L127.2,302.9 L127.4,302.0 L127.6,301.0 L127.8,300.0 L128.0,299.1 L128.1,298.2 L128.3,297.2 L128.5,296.3 L128.6,295.3 L128.8,294.3 L129.0,293.3 L129.1,292.3 L129.3,291.2 L129.5,290.2 L129.6,289.2 L129.8,288.1 L130.0,287.1 L130.1,286.0 L130.3,285.0 L130.5,284.0 L130.6,283.1 L130.8,282.1 L130.9,281.1 L131.1,280.1 L131.2,279.1 L131.4,278.1 L131.5,277.1 L131.7,276.1 L131.8,275.2 L132.0,274.3 L132.1,273.3 L132.2,272.3 L132.4,271.4 L132.5,270.4 L132.6,269.4 L132.8,268.5 L132.9,267.5 L133.0,266.6 L133.2,265.8 L133.3,265.0 L133.5,263.9 L133.7,262.8 L133.9,261.7 L134.1,260.7 L134.2,259.7 L134.4,258.8 L134.6,257.9 L134.8,257.3 L135.0,256.7 L135.6,255.5 L136.1,254.7 L136.7,254.0 L137.2,253.2 L137.8,252.2 L138.1,251.5 L138.4,250.8 L138.6,249.9 L138.9,249.0 L139.2,248.1 L139.4,247.0 L139.7,246.0 L140.0,245.0 L140.2,244.2 L140.4,243.2 L140.6,242.2 L140.8,241.2 L141.1,240.2 L141.3,239.3 L141.5,238.5 L141.7,237.8 L142.1,236.6 L142.6,235.5 L143.0,234.6 L143.5,233.8 L143.9,233.3 L144.8,232.6 L145.8,232.1 L146.7,231.7 L147.4,231.5 L148.2,231.3 L148.9,231.1 L149.8,230.5 L150.8,229.8 L151.7,229.4 L152.5,229.3 L153.3,229.3 L154.2,229.2 L155.0,229.2 L156.0,229.2 L156.9,229.3 L157.9,229.3 L158.9,229.4 L159.8,229.5 L160.8,229.7 L161.8,229.8 L162.8,230.0 L163.7,230.1 L164.7,230.3 L165.7,230.5 L166.7,230.8 L167.7,231.1 L168.7,231.4 L169.7,231.8 L170.7,232.2 L171.7,232.6 L172.7,233.0 L173.7,233.4 L174.7,233.7 L175.6,234.0 L176.5,234.3 L177.4,234.6 L178.3,235.0 L179.2,235.3 L180.2,235.6 L181.1,235.8 L182.0,236.0 L182.9,236.2 L183.8,236.2 L184.7,236.2 L185.6,236.1 L186.6,235.9 L187.5,235.8 L188.4,235.6 L189.3,235.4 L190.2,235.2 L191.2,235.0 L192.1,234.9 L193.0,234.8 L193.9,234.7 L194.9,234.7 L195.8,234.6 L196.8,234.6 L197.8,234.5 L198.7,234.5 L199.7,234.4 L200.6,234.4 L201.6,234.4 L202.5,234.4 L203.5,234.3 L204.4,234.3 L205.4,234.3 L206.3,234.3 L207.3,234.3 L208.3,234.5 L209.3,234.6 L210.3,234.8 L211.3,235.0 L212.3,235.2 L213.3,235.5 L214.3,235.7 L215.3,236.1 L216.3,236.4 L217.3,236.7 L218.3,236.9 L219.3,237.1 L220.3,237.3 L221.3,237.3 L222.3,237.3 L223.3,237.3 L224.3,237.3 L225.3,237.3 L226.3,237.3 L227.3,237.3 L228.3,237.3 L229.3,237.3 L230.3,237.3 L231.3,237.3 L232.3,237.2 L233.2,237.0 L234.2,236.7 L235.1,236.3 L236.1,235.9 L237.0,235.3 L238.0,234.8 L238.8,234.1 L239.7,233.2 L240.5,232.0 L241.3,230.9 L242.2,229.8 L243.0,229.0 L243.8,228.3 L244.7,227.6 L245.5,227.1 L246.4,226.7 L247.2,226.5 L248.2,226.5 L249.2,226.5 L250.2,226.5 L251.2,226.5 L252.2,226.5 L253.1,226.5 L254.1,226.5 L255.1,226.5 L256.1,226.5 L257.1,226.5 L258.1,226.5 L259.1,226.5 L260.1,226.5 L261.1,226.5 L262.1,226.5 L263.0,226.5 L264.0,226.5 L265.0,226.5 L266.0,226.5 L267.0,226.5 L268.0,226.5 L269.0,226.5 L270.0,226.5 L271.0,226.5 L272.0,226.5 L273.0,226.5 L274.0,226.5 L275.0,226.5 L276.0,226.5 L277.0,226.5 L278.0,226.5 L279.0,226.5 L280.0,226.5 L281.0,226.5 L282.0,226.5 L282.9,226.5 L283.9,226.5 L284.9,226.5 L285.9,226.5 L286.9,226.5 L287.9,226.5 L288.9,226.5 L289.9,226.5 L290.9,226.5 L291.9,226.5 L292.9,226.5 L293.9,226.5 L294.9,226.5 L295.9,226.5 L296.9,226.5 L297.9,226.5" fill="none" stroke="#3030ac" stroke-width="1.5" stroke-linejoin="round" stroke-linecap="round"/>
<line x1="382.60" y1="329.80" x2="653.00" y2="329.80" stroke="#7c7c7c" stroke-width="1.1"/>
<line x1="391.88" y1="329.80" x2="391.88" y2="330.90" stroke="#b8b8b8" stroke-width="0.8"/>
<line x1="409.20" y1="329.80" x2="409.20" y2="331.30" stroke="#909090" stroke-width="0.9"/>
<line x1="426.52" y1="329.80" x2="426.52" y2="330.90" stroke="#b8b8b8" stroke-width="0.8"/>
<line x1="443.85" y1="329.80" x2="443.85" y2="331.30" stroke="#909090" stroke-width="0.9"/>
<line x1="461.18" y1="329.80" x2="461.18" y2="330.90" stroke="#b8b8b8" stroke-width="0.8"/>
<line x1="478.50" y1="329.80" x2="478.50" y2="331.30" stroke="#909090" stroke-width="0.9"/>
<line x1="495.82" y1="329.80" x2="495.82" y2="330.90" stroke="#b8b8b8" stroke-width="0.8"/>
<line x1="513.15" y1="329.80" x2="513.15" y2="331.30" stroke="#909090" stroke-width="0.9"/>
<line x1="530.48" y1="329.80" x2="530.48" y2="330.90" stroke="#b8b8b8" stroke-width="0.8"/>
<line x1="547.80" y1="329.80" x2="547.80" y2="331.30" stroke="#909090" stroke-width="0.9"/>
<line x1="565.12" y1="329.80" x2="565.12" y2="330.90" stroke="#b8b8b8" stroke-width="0.8"/>
<line x1="582.45" y1="329.80" x2="582.45" y2="331.30" stroke="#909090" stroke-width="0.9"/>
<line x1="599.77" y1="329.80" x2="599.77" y2="330.90" stroke="#b8b8b8" stroke-width="0.8"/>
<line x1="617.10" y1="329.80" x2="617.10" y2="331.30" stroke="#909090" stroke-width="0.9"/>
<line x1="634.42" y1="329.80" x2="634.42" y2="330.90" stroke="#b8b8b8" stroke-width="0.8"/>
<line x1="651.75" y1="329.80" x2="651.75" y2="331.30" stroke="#909090" stroke-width="0.9"/>
<line x1="382.60" y1="213.50" x2="382.60" y2="329.80" stroke="#8ccf8c" stroke-width="1.35"/>
<line x1="653.00" y1="213.50" x2="653.00" y2="329.80" stroke="#ffa4ac" stroke-width="1.7" stroke-dasharray="2.2 0.8"/>
<line x1="677.80" y1="213.50" x2="677.80" y2="329.80" stroke="#a0a0e2" stroke-width="1.3"/>
<text transform="translate(380.00,224.47) scale(1,0.97)" font-size="10" text-anchor="end" font-family="Liberation Sans" fill="#222" stroke="#222" stroke-width="0.28">100</text>
<text transform="translate(380.00,243.72) scale(1,0.97)" font-size="10" text-anchor="end" font-family="Liberation Sans" fill="#222" stroke="#222" stroke-width="0.28">80</text>
<text transform="translate(380.00,262.97) scale(1,0.97)" font-size="10" text-anchor="end" font-family="Liberation Sans" fill="#222" stroke="#222" stroke-width="0.28">60</text>
<text transform="translate(380.00,282.22) scale(1,0.97)" font-size="10" text-anchor="end" font-family="Liberation Sans" fill="#222" stroke="#222" stroke-width="0.28">40</text>
<text transform="translate(380.00,301.47) scale(1,0.97)" font-size="10" text-anchor="end" font-family="Liberation Sans" fill="#222" stroke="#222" stroke-width="0.28">20</text>
<text transform="translate(380.00,320.72) scale(1,0.97)" font-size="10" text-anchor="end" font-family="Liberation Sans" fill="#222" stroke="#222" stroke-width="0.28">0</text>
<text transform="translate(409.20,340.97) scale(1,0.97)" font-size="10" text-anchor="middle" font-family="Liberation Sans" fill="#222" stroke="#222" stroke-width="0.28">100</text>
<text transform="translate(443.85,340.97) scale(1,0.97)" font-size="10" text-anchor="middle" font-family="Liberation Sans" fill="#222" stroke="#222" stroke-width="0.28">200</text>
<text transform="translate(478.50,340.97) scale(1,0.97)" font-size="10" text-anchor="middle" font-family="Liberation Sans" fill="#222" stroke="#222" stroke-width="0.28">300</text>
<text transform="translate(513.15,340.97) scale(1,0.97)" font-size="10" text-anchor="middle" font-family="Liberation Sans" fill="#222" stroke="#222" stroke-width="0.28">400</text>
<text transform="translate(547.80,340.97) scale(1,0.97)" font-size="10" text-anchor="middle" font-family="Liberation Sans" fill="#222" stroke="#222" stroke-width="0.28">500</text>
<text transform="translate(582.45,340.97) scale(1,0.97)" font-size="10" text-anchor="middle" font-family="Liberation Sans" fill="#222" stroke="#222" stroke-width="0.28">600</text>
<text transform="translate(617.10,340.97) scale(1,0.97)" font-size="10" text-anchor="middle" font-family="Liberation Sans" fill="#222" stroke="#222" stroke-width="0.28">700</text>
<text transform="translate(654.50,222.47) scale(1,0.97)" font-size="10" text-anchor="start" font-family="Liberation Sans" fill="#222" stroke="#222" stroke-width="0.28">2.5</text>
<text transform="translate(654.50,238.72) scale(1,0.97)" font-size="10" text-anchor="start" font-family="Liberation Sans" fill="#222" stroke="#222" stroke-width="0.28">2.0</text>
<text transform="translate(654.50,254.47) scale(1,0.97)" font-size="10" text-anchor="start" font-family="Liberation Sans" fill="#222" stroke="#222" stroke-width="0.28">1.5</text>
<text transform="translate(654.50,269.97) scale(1,0.97)" font-size="10" text-anchor="start" font-family="Liberation Sans" fill="#222" stroke="#222" stroke-width="0.28">1.0</text>
<text transform="translate(654.50,285.72) scale(1,0.97)" font-size="10" text-anchor="start" font-family="Liberation Sans" fill="#222" stroke="#222" stroke-width="0.28">0.5</text>
<text transform="translate(654.50,301.97) scale(1,0.97)" font-size="10" text-anchor="start" font-family="Liberation Sans" fill="#222" stroke="#222" stroke-width="0.28">0.0</text>
<text transform="translate(654.50,318.22) scale(1,0.97)" font-size="10" text-anchor="start" font-family="Liberation Sans" fill="#222" stroke="#222" stroke-width="0.28">-0.5</text>
<text transform="translate(679.00,229.47) scale(1,0.97)" font-size="10" text-anchor="start" font-family="Liberation Sans" fill="#222" stroke="#222" stroke-width="0.28">0</text>
<line x1="677.80" y1="226.00" x2="679.40" y2="226.00" stroke="#8080b8" stroke-width="0.9"/>
<text transform="translate(679.00,251.97) scale(1,0.97)" font-size="10" text-anchor="start" font-family="Liberation Sans" fill="#222" stroke="#222" stroke-width="0.28">-2</text>
<line x1="677.80" y1="248.50" x2="679.40" y2="248.50" stroke="#8080b8" stroke-width="0.9"/>
<text transform="translate(679.00,273.72) scale(1,0.97)" font-size="10" text-anchor="start" font-family="Liberation Sans" fill="#222" stroke="#222" stroke-width="0.28">-4</text>
<line x1="677.80" y1="270.25" x2="679.40" y2="270.25" stroke="#8080b8" stroke-width="0.9"/>
<text transform="translate(679.00,296.47) scale(1,0.97)" font-size="10" text-anchor="start" font-family="Liberation Sans" fill="#222" stroke="#222" stroke-width="0.28">-6</text>
<line x1="677.80" y1="293.00" x2="679.40" y2="293.00" stroke="#8080b8" stroke-width="0.9"/>
<text transform="translate(679.00,318.22) scale(1,0.97)" font-size="10" text-anchor="start" font-family="Liberation Sans" fill="#222" stroke="#222" stroke-width="0.28">-8</text>
<line x1="677.80" y1="314.75" x2="679.40" y2="314.75" stroke="#8080b8" stroke-width="0.9"/>
<text transform="translate(369.50,198.72) scale(1,0.97)" font-size="10.2" text-anchor="start" font-family="Liberation Sans" fill="#222" stroke="#222" stroke-width="0.28">TG /%</text>
<text transform="translate(628.50,188.27) scale(1,0.97)" font-size="10.2" text-anchor="start" font-family="Liberation Sans" fill="#222" stroke="#222" stroke-width="0.28">c-DTA® /K</text>
<text transform="translate(646.60,198.97) scale(1,0.97)" font-size="10.2" text-anchor="start" font-family="Liberation Sans" fill="#222" stroke="#222" stroke-width="0.28">DTG /(%/min)</text>
<path d="M629.30,205.40 L629.30,213.50" stroke="#2a2a2a" stroke-width="0.8"/>
<path d="M628.20,211.60 L629.30,214.60 L630.40,211.60 Z" fill="#2a2a2a" stroke="#2a2a2a" stroke-width="0.4"/>
<text transform="translate(634.80,213.47) scale(1,0.97)" font-size="10.2" text-anchor="start" font-family="Liberation Sans" fill="#222" stroke="#222" stroke-width="0.28">exo</text>
<text transform="translate(479.70,351.47) scale(1,0.97)" font-size="10.4" text-anchor="start" font-family="Liberation Sans" fill="#222" stroke="#222" stroke-width="0.28">Temperature /°C</text>
<text transform="translate(528.00,213.20) scale(1,1.0)" font-size="20" text-anchor="start" font-family="Liberation Serif" fill="#161616" stroke="#161616" stroke-width="0.35">d)</text>
<rect x="648.40" y="310.20" width="2.4" height="2.4" fill="#c4dcc4"/>
<rect x="648.40" y="292.95" width="2.4" height="2.4" fill="#f8c8c0"/>
<rect x="648.40" y="221.20" width="2.4" height="2.4" fill="#c4c4dc"/>
<path d="M384.5,220.7 L385.5,220.7 L386.5,220.7 L387.5,220.7 L388.4,220.7 L389.4,220.7 L390.4,220.7 L391.4,220.7 L392.4,220.7 L393.4,220.7 L394.4,220.7 L395.3,220.7 L396.3,220.7 L397.3,220.7 L398.3,220.7 L399.3,220.7 L400.3,220.7 L401.3,220.7 L402.2,220.7 L403.2,220.7 L404.2,220.7 L405.2,220.7 L406.2,220.7 L407.2,220.7 L408.2,220.7 L409.1,220.7 L410.1,220.7 L411.1,220.7 L412.1,220.7 L413.1,220.7 L414.1,220.7 L415.0,220.7 L416.0,220.7 L417.0,220.7 L418.0,220.7 L419.0,220.7 L420.0,220.7 L421.0,220.7 L421.9,220.7 L422.9,220.7 L423.9,220.7 L424.9,220.7 L425.9,220.7 L426.9,220.7 L427.9,220.7 L428.8,220.7 L429.8,220.7 L430.8,220.7 L431.8,220.7 L432.8,220.7 L433.8,220.7 L434.8,220.7 L435.7,220.7 L436.7,220.7 L437.7,220.7 L438.7,220.7 L439.6,220.7 L440.6,220.7 L441.6,220.7 L442.5,220.7 L443.4,220.7 L444.4,220.7 L445.4,220.8 L446.3,220.8 L447.2,220.8 L448.2,220.8 L449.1,220.8 L450.1,220.9 L451.1,220.9 L452.0,220.9 L453.0,220.9 L454.0,221.0 L455.0,221.1 L456.0,221.1 L457.0,221.2 L458.0,221.4 L459.0,221.5 L460.0,221.6 L461.0,221.8 L462.0,222.0 L463.0,222.3 L464.0,222.7 L465.0,223.2 L466.0,223.8 L467.0,224.5 L467.9,225.2 L468.9,226.1 L469.9,227.1 L470.8,228.3 L471.2,229.0 L471.6,229.7 L472.1,230.6 L472.5,231.6 L472.9,232.6 L473.4,233.7 L473.8,234.8 L474.2,235.8 L474.6,236.7 L474.9,237.6 L475.3,238.5 L475.6,239.5 L476.0,240.5 L476.3,241.5 L476.7,242.5 L477.0,243.4 L477.3,244.4 L477.6,245.4 L478.0,246.4 L478.3,247.4 L478.6,248.5 L478.9,249.5 L479.2,250.5 L479.5,251.5 L479.9,252.4 L480.2,253.4 L480.5,254.2 L480.8,255.0 L481.3,256.1 L481.7,257.1 L482.2,258.1 L482.7,259.1 L483.1,260.0 L483.6,260.8 L484.1,261.7 L484.5,262.5 L485.0,263.3 L485.6,264.4 L486.2,265.4 L486.9,266.4 L487.5,267.4 L488.1,268.4 L488.8,269.2 L489.4,270.1 L490.0,270.8 L491.0,271.8 L491.9,272.8 L492.9,273.7 L493.8,274.6 L494.8,275.3 L495.7,276.1 L496.7,276.7 L497.6,277.3 L498.6,277.8 L499.5,278.4 L500.5,278.8 L501.4,279.3 L502.4,279.7 L503.3,280.0 L504.3,280.3 L505.2,280.6 L506.2,280.9 L507.1,281.1 L508.1,281.3 L509.0,281.5 L510.0,281.7 L511.0,281.9 L511.9,282.0 L512.9,282.2 L513.9,282.4 L514.9,282.5 L515.9,282.6 L516.8,282.8 L517.8,282.9 L518.8,283.0 L519.8,283.1 L520.7,283.2 L521.7,283.3 L522.7,283.4 L523.7,283.5 L524.7,283.5 L525.7,283.6 L526.7,283.7 L527.7,283.7 L528.7,283.8 L529.7,283.9 L530.7,283.9 L531.7,284.0 L532.7,284.0 L533.7,284.1 L534.7,284.1 L535.7,284.2 L536.7,284.2 L537.7,284.2 L538.6,284.3 L539.6,284.3 L540.5,284.3 L541.5,284.4 L542.4,284.4 L543.4,284.4 L544.3,284.4 L545.2,284.5 L546.2,284.5 L547.1,284.5 L548.1,284.6 L549.0,284.6 L550.0,284.7 L550.9,284.8 L551.8,284.9 L552.8,285.0 L553.7,285.2 L554.6,285.4 L555.5,285.6 L556.5,285.8 L557.4,286.1 L558.3,286.3 L559.2,286.6 L560.2,286.9 L561.1,287.3 L562.0,287.7 L563.0,288.1 L563.9,288.5 L564.8,289.0 L565.8,289.5 L566.7,290.0 L567.6,290.5 L568.5,291.1 L569.5,291.7 L570.4,292.3 L571.3,293.0 L572.2,293.7 L573.2,294.4 L574.1,295.1 L575.0,295.8 L575.9,296.5 L576.8,297.3 L577.8,298.2 L578.7,299.0 L579.6,299.9 L580.5,300.7 L581.5,301.6 L582.4,302.5 L583.3,303.3 L584.2,304.2 L585.2,305.1 L586.1,306.0 L587.0,307.0 L588.0,307.9 L588.9,308.7 L589.8,309.5 L590.8,310.2 L591.7,310.8 L592.6,311.3 L593.5,311.7 L594.5,312.1 L595.4,312.5 L596.3,312.8 L597.2,313.2 L598.2,313.5 L599.1,313.7 L600.0,314.0 L600.9,314.2 L601.8,314.5 L602.7,314.7 L603.6,314.9 L604.5,315.1 L605.4,315.3 L606.2,315.4 L607.2,315.5 L608.1,315.7 L609.1,315.8 L610.0,316.0 L610.9,316.1 L611.9,316.2 L612.8,316.2 L613.8,316.2 L614.7,316.2 L615.7,316.2 L616.7,316.2 L617.6,316.2 L618.6,316.2 L619.6,316.2 L620.6,316.2 L621.5,316.2 L622.5,316.1 L623.5,316.1 L624.4,316.1 L625.4,316.1 L626.4,316.0 L627.4,316.0 L628.3,316.0 L629.3,316.0 L630.3,315.9 L631.2,315.9 L632.2,315.9 L633.2,315.8 L634.2,315.8 L635.1,315.8 L636.1,315.7 L637.1,315.7 L638.0,315.6 L639.0,315.6 L640.0,315.5 L640.9,315.5 L641.9,315.4 L642.9,315.4 L643.8,315.3 L644.8,315.3 L645.8,315.2 L646.7,315.2 L647.7,315.1 L648.7,315.1 L649.6,315.0 L650.6,315.0" fill="none" stroke="#1f9a2a" stroke-width="1.6" stroke-linejoin="round" stroke-linecap="round"/>
<path d="M384.0,299.2 L384.6,298.1 L385.2,296.9 L385.8,295.7 L386.4,294.8 L387.0,294.2 L387.8,293.7 L388.7,293.4 L389.5,293.1 L390.4,292.9 L391.2,292.8 L392.2,292.9 L393.1,293.2 L394.1,293.6 L395.1,294.1 L396.0,294.6 L397.0,295.0 L397.9,295.4 L398.8,295.8 L399.8,296.2 L400.7,296.7 L401.6,297.1 L402.5,297.5 L403.5,297.7 L404.4,297.9 L405.3,298.0 L406.3,298.0 L407.3,297.9 L408.3,297.9 L409.3,297.8 L410.3,297.8 L411.3,297.7 L412.3,297.6 L413.3,297.6 L414.3,297.5 L415.3,297.5 L416.2,297.5 L417.2,297.5 L418.1,297.5 L419.1,297.5 L420.0,297.5 L420.9,297.5 L421.9,297.5 L422.8,297.5 L423.8,297.4 L424.8,297.1 L425.7,296.5 L426.7,295.8 L426.8,295.5 L427.0,295.0 L427.1,294.3 L427.3,293.4 L427.4,292.3 L427.5,291.1 L427.7,289.8 L427.8,288.4 L428.0,287.0 L428.1,285.5 L428.2,284.0 L428.4,282.6 L428.5,281.2 L428.7,280.0 L428.8,278.8 L428.9,277.8 L429.1,277.0 L429.2,276.3 L429.4,275.9 L429.5,275.8 L429.7,275.9 L429.8,276.3 L430.0,276.8 L430.1,277.6 L430.3,278.5 L430.4,279.5 L430.6,280.7 L430.8,281.9 L430.9,283.2 L431.1,284.5 L431.2,285.8 L431.4,287.1 L431.5,288.4 L431.7,289.6 L431.8,290.7 L432.0,291.7 L432.2,292.7 L432.3,293.9 L432.5,295.1 L432.7,296.3 L432.8,297.6 L433.0,298.8 L433.2,300.0 L433.3,301.2 L433.5,302.3 L433.7,303.3 L433.8,304.1 L434.0,304.8 L434.2,305.3 L434.3,305.7 L434.5,305.8 L435.3,305.8 L436.2,305.6 L437.0,305.5 L437.9,305.2 L438.7,305.0 L439.5,304.6 L440.3,303.9 L441.2,303.3 L442.0,302.7 L442.8,302.5 L443.8,302.5 L444.8,302.6 L445.8,302.8 L446.7,302.9 L447.7,303.0 L448.7,303.0 L449.4,302.8 L450.0,302.5 L450.8,301.9 L451.7,301.1 L452.5,300.1 L453.4,299.1 L454.2,298.3 L455.0,297.5 L455.8,296.6 L456.7,295.8 L457.5,295.2 L458.3,295.0 L458.9,295.3 L459.6,296.2 L460.2,297.2 L460.8,298.3 L461.3,299.2 L461.8,300.3 L462.3,301.5 L462.8,302.6 L463.3,303.6 L463.8,304.2 L464.6,304.9 L465.4,305.5 L466.2,305.7 L467.2,305.5 L468.1,304.9 L469.1,304.1 L470.0,303.3 L470.6,302.7 L471.2,302.0 L471.9,301.1 L472.5,300.0 L472.8,299.4 L473.2,298.8 L473.5,298.0 L473.9,296.8 L474.2,295.0 L474.2,294.6 L474.3,293.8 L474.3,292.9 L474.4,291.7 L474.4,290.5 L474.4,289.2 L474.5,288.0 L474.5,286.8 L474.6,285.8 L474.6,285.0 L474.7,283.7 L474.8,282.5 L474.9,281.5 L474.9,280.5 L475.0,279.7 L475.1,278.9 L475.2,278.1 L475.3,277.4 L475.4,276.6 L475.5,275.8 L475.5,274.9 L475.6,274.0 L475.7,272.9 L475.8,271.7 L475.8,271.0 L475.9,270.3 L475.9,269.4 L476.0,268.6 L476.0,267.6 L476.1,266.7 L476.1,265.6 L476.1,264.6 L476.2,263.5 L476.2,262.4 L476.3,261.2 L476.3,260.0 L476.4,258.9 L476.4,257.7 L476.5,256.5 L476.5,255.3 L476.5,254.1 L476.6,252.9 L476.6,251.8 L476.7,250.7 L476.7,249.6 L476.8,248.5 L476.8,247.5 L476.8,246.5 L476.9,245.5 L476.9,244.6 L477.0,243.8 L477.0,243.0 L477.1,242.3 L477.1,241.7 L477.2,240.3 L477.3,239.0 L477.4,237.6 L477.5,236.3 L477.6,235.0 L477.7,233.8 L477.8,232.6 L477.9,231.6 L478.0,230.6 L478.1,229.8 L478.2,229.2 L478.3,228.7 L478.4,228.4 L478.5,228.3 L478.6,228.4 L478.8,228.8 L478.9,229.4 L479.1,230.2 L479.2,231.1 L479.4,232.2 L479.6,233.4 L479.7,234.7 L479.9,236.1 L480.0,237.5 L480.1,238.1 L480.1,238.7 L480.2,239.5 L480.2,240.3 L480.3,241.3 L480.3,242.2 L480.4,243.2 L480.4,244.3 L480.5,245.4 L480.6,246.5 L480.6,247.6 L480.7,248.7 L480.7,249.9 L480.8,251.0 L480.8,252.0 L480.9,253.1 L480.9,254.1 L481.0,255.0 L481.1,256.1 L481.1,257.1 L481.2,258.2 L481.3,259.3 L481.3,260.4 L481.4,261.5 L481.5,262.5 L481.5,263.6 L481.6,264.6 L481.6,265.6 L481.7,266.6 L481.8,267.6 L481.8,268.5 L481.9,269.4 L482.0,270.2 L482.0,271.0 L482.1,271.7 L482.2,272.9 L482.3,274.0 L482.5,275.0 L482.6,275.9 L482.7,276.8 L482.8,277.6 L482.9,278.4 L483.0,279.2 L483.2,280.0 L483.3,280.9 L483.4,281.8 L483.5,282.7 L483.6,283.8 L483.8,285.0 L483.8,285.7 L483.9,286.6 L483.9,287.5 L484.0,288.5 L484.1,289.6 L484.1,290.7 L484.2,291.8 L484.3,293.0 L484.3,294.2 L484.4,295.3 L484.5,296.5 L484.5,297.6 L484.6,298.7 L484.7,299.7 L484.7,300.6 L484.8,301.4 L484.9,302.2 L484.9,302.8 L485.0,303.3 L485.2,304.8 L485.5,306.1 L485.7,307.2 L485.9,308.2 L486.2,309.1 L486.4,309.9 L486.6,310.6 L486.9,311.2 L487.1,311.7 L487.8,313.1 L488.6,314.3 L489.3,315.1 L490.0,315.4 L490.7,315.4 L491.4,315.4 L492.1,315.4 L492.7,315.0 L493.3,313.9 L493.8,312.6 L494.4,311.3 L495.0,310.4 L496.0,309.6 L496.9,309.0 L497.9,308.3 L498.6,307.6 L499.4,306.7 L500.1,305.8 L500.8,305.0 L501.6,304.1 L502.5,303.3 L503.4,302.6 L504.2,302.1 L505.0,301.8 L505.8,301.7 L506.7,301.5 L507.5,301.4 L508.3,301.2 L509.3,301.2 L510.3,301.1 L511.3,301.0 L512.3,300.9 L513.3,300.8 L513.6,300.6 L514.0,300.1 L514.3,299.3 L514.7,298.4 L515.0,297.3 L515.3,296.1 L515.7,294.9 L516.0,293.8 L516.4,292.7 L516.7,291.7 L517.1,290.7 L517.4,289.5 L517.8,288.3 L518.1,287.1 L518.5,286.2 L518.8,285.5 L519.2,285.3 L520.0,285.5 L520.9,286.1 L521.7,286.7 L522.7,287.5 L523.7,288.4 L524.7,289.4 L525.7,290.2 L526.7,290.8 L527.6,291.2 L528.6,291.5 L529.5,291.8 L530.5,292.1 L531.4,292.3 L532.4,292.5 L533.3,292.5 L534.2,292.5 L535.2,292.5 L536.1,292.5 L537.0,292.5 L538.0,292.5 L538.9,292.5 L539.8,292.5 L540.8,292.5 L541.7,292.5 L542.7,292.6 L543.7,292.9 L544.7,293.3 L545.7,293.8 L546.7,294.2 L547.7,294.7 L548.7,295.4 L549.7,296.0 L550.7,296.5 L551.7,296.7 L552.5,296.6 L553.4,296.2 L554.2,295.9 L555.0,295.8 L555.8,295.9 L556.7,296.3 L557.5,296.9 L558.4,297.6 L559.2,298.3 L559.8,299.1 L560.5,300.3 L561.1,301.3 L561.7,301.7 L562.5,301.7 L563.4,301.7 L564.2,301.7 L565.0,302.5 L565.8,303.3 L566.3,302.9 L566.8,301.9 L567.3,300.6 L567.8,299.6 L568.3,299.2 L569.1,299.6 L570.0,300.4 L570.8,300.8 L571.3,300.4 L571.8,299.5 L572.3,298.4 L572.8,297.3 L573.3,296.7 L574.1,296.2 L575.0,295.9 L575.8,295.8 L576.6,296.4 L577.5,297.7 L578.3,298.3 L579.3,298.2 L580.3,298.0 L581.3,297.5 L581.4,297.3 L581.6,296.7 L581.7,295.9 L581.8,294.9 L582.0,293.7 L582.1,292.5 L582.2,291.1 L582.4,289.7 L582.5,288.4 L582.6,287.1 L582.8,285.9 L582.9,284.9 L583.0,284.1 L583.2,283.5 L583.3,283.3 L583.8,283.1 L584.2,283.0 L584.4,283.2 L584.6,283.8 L584.8,284.8 L585.0,286.0 L585.2,287.3 L585.5,288.7 L585.7,290.2 L585.9,291.6 L586.1,292.8 L586.3,293.9 L586.5,294.6 L586.7,295.0 L587.5,295.6 L588.3,295.8 L588.9,295.6 L589.4,295.0 L590.0,294.0 L590.6,292.8 L591.1,291.5 L591.7,290.0 L591.9,289.4 L592.1,288.5 L592.3,287.4 L592.5,286.2 L592.7,284.9 L592.9,283.6 L593.0,282.3 L593.2,281.0 L593.4,279.9 L593.6,278.9 L593.8,278.2 L594.0,277.7 L594.2,277.5 L594.6,277.7 L595.0,278.4 L595.5,279.3 L595.9,280.5 L596.3,281.9 L596.7,283.3 L596.9,283.9 L597.0,284.8 L597.2,285.8 L597.3,286.9 L597.5,288.1 L597.6,289.4 L597.8,290.7 L598.0,292.0 L598.1,293.3 L598.3,294.6 L598.4,295.7 L598.6,296.8 L598.7,297.7 L598.9,298.4 L599.0,298.9 L599.2,299.2 L600.1,299.9 L600.9,300.5 L601.8,300.9 L602.7,301.3 L603.5,301.4 L604.4,301.5 L605.3,301.1 L606.1,300.3 L607.0,299.2 L607.9,298.1 L608.8,297.5 L609.7,297.1 L610.6,296.8 L611.6,296.6 L612.5,296.5 L613.4,296.5 L614.4,296.5 L615.3,296.5 L616.2,296.5 L617.2,296.5 L618.1,296.5 L619.1,296.5 L620.0,296.5 L620.9,296.5 L621.9,296.7 L622.8,296.8 L623.8,297.0 L624.7,297.2 L625.6,297.3 L626.6,297.5 L627.5,297.5 L628.5,297.5 L629.5,297.5 L630.5,297.4 L631.5,297.4 L632.5,297.3 L633.5,297.2 L634.5,297.2 L635.5,297.1 L636.5,297.1 L637.5,297.1 L638.5,297.1 L639.5,297.2 L640.5,297.3 L641.5,297.5 L642.5,297.6 L643.5,297.7 L644.5,297.9 L645.5,298.0 L646.5,298.1 L647.5,298.1 L648.3,298.1 L649.0,298.0 L649.8,297.9 L650.6,297.8" fill="none" stroke="#ff2020" stroke-width="1.5" stroke-linejoin="round" stroke-linecap="round"/>
<path d="M384.5,226.2 L385.5,226.2 L386.5,226.2 L387.4,226.2 L388.4,226.2 L389.4,226.2 L390.4,226.2 L391.4,226.2 L392.3,226.2 L393.3,226.2 L394.3,226.2 L395.3,226.2 L396.3,226.2 L397.2,226.2 L398.2,226.2 L399.2,226.2 L400.2,226.2 L401.2,226.2 L402.1,226.2 L403.1,226.2 L404.1,226.2 L405.1,226.2 L406.1,226.2 L407.0,226.2 L408.0,226.2 L409.0,226.2 L410.0,226.2 L411.0,226.2 L411.9,226.2 L412.9,226.2 L413.9,226.2 L414.9,226.2 L415.9,226.2 L416.8,226.2 L417.8,226.2 L418.8,226.2 L419.8,226.2 L420.8,226.2 L421.7,226.2 L422.7,226.2 L423.7,226.2 L424.6,226.2 L425.5,226.2 L426.5,226.1 L427.4,226.1 L428.3,226.0 L429.2,225.9 L430.2,225.8 L431.1,225.8 L432.0,225.7 L433.0,225.6 L433.9,225.5 L434.9,225.4 L435.8,225.2 L436.8,225.1 L437.7,225.0 L438.7,225.0 L439.6,225.0 L440.5,225.1 L441.5,225.2 L442.4,225.4 L443.3,225.6 L444.2,225.9 L445.2,226.1 L446.1,226.4 L447.0,226.7 L448.0,227.1 L449.0,227.7 L450.0,228.3 L451.0,228.9 L452.0,229.5 L453.0,230.1 L454.0,230.9 L455.0,231.7 L455.7,232.3 L456.3,233.0 L457.0,233.9 L457.6,234.8 L458.3,235.8 L458.7,236.6 L459.1,237.4 L459.6,238.4 L460.0,239.4 L460.4,240.5 L460.8,241.7 L461.1,242.5 L461.4,243.4 L461.6,244.4 L461.9,245.4 L462.2,246.4 L462.5,247.5 L462.7,248.3 L462.9,249.2 L463.1,250.1 L463.4,251.1 L463.6,252.0 L463.8,253.0 L464.0,254.0 L464.2,255.0 L464.4,255.9 L464.6,256.8 L464.8,257.8 L465.0,258.7 L465.2,259.7 L465.4,260.6 L465.5,261.6 L465.7,262.6 L465.9,263.5 L466.1,264.5 L466.3,265.5 L466.5,266.5 L466.7,267.5 L466.9,268.4 L467.1,269.4 L467.2,270.3 L467.4,271.3 L467.6,272.2 L467.8,273.2 L468.0,274.1 L468.2,275.1 L468.4,276.1 L468.5,277.0 L468.7,278.0 L468.9,279.0 L469.1,280.0 L469.3,281.0 L469.4,282.0 L469.6,283.0 L469.8,284.0 L470.0,285.0 L470.2,286.0 L470.3,286.9 L470.5,287.9 L470.7,289.0 L470.9,290.0 L471.0,291.0 L471.2,292.0 L471.4,293.0 L471.5,294.0 L471.7,295.0 L471.9,296.0 L472.0,297.0 L472.2,298.0 L472.4,299.0 L472.6,299.9 L472.7,300.8 L472.9,301.7 L473.1,302.7 L473.3,303.7 L473.5,304.7 L473.7,305.7 L473.9,306.6 L474.2,307.5 L474.4,308.4 L474.6,309.2 L474.8,310.0 L475.0,310.8 L475.3,312.0 L475.7,313.2 L476.0,314.3 L476.4,315.2 L476.7,315.8 L477.5,316.8 L478.3,317.3 L479.1,317.0 L480.0,316.2 L480.4,315.8 L480.7,315.0 L481.1,314.1 L481.4,313.0 L481.8,311.9 L482.1,310.8 L482.4,310.0 L482.6,309.1 L482.9,308.1 L483.1,307.2 L483.4,306.2 L483.7,305.2 L483.9,304.2 L484.2,303.3 L484.5,302.4 L484.8,301.5 L485.0,300.7 L485.3,299.9 L485.6,299.0 L485.9,298.2 L486.1,297.2 L486.4,296.2 L486.7,295.0 L486.9,294.2 L487.0,293.3 L487.2,292.3 L487.3,291.2 L487.5,290.0 L487.7,288.9 L487.8,287.8 L488.0,286.8 L488.1,285.8 L488.3,285.0 L488.6,283.7 L488.9,282.6 L489.1,281.5 L489.4,280.5 L489.7,279.6 L490.0,278.6 L490.3,277.8 L490.6,276.9 L490.9,276.0 L491.1,275.1 L491.4,274.2 L491.7,273.3 L492.0,272.3 L492.3,271.4 L492.6,270.4 L492.8,269.4 L493.1,268.4 L493.4,267.5 L493.7,266.5 L494.0,265.5 L494.3,264.5 L494.5,263.6 L494.8,262.6 L495.1,261.6 L495.4,260.7 L495.7,259.7 L496.0,258.8 L496.2,257.8 L496.5,256.9 L496.8,255.9 L497.1,255.0 L497.4,254.0 L497.7,253.0 L498.0,252.0 L498.3,251.0 L498.6,250.0 L498.8,249.0 L499.1,248.1 L499.4,247.3 L499.7,246.5 L500.0,245.8 L500.6,244.6 L501.2,243.5 L501.8,242.5 L502.4,241.6 L503.0,240.7 L503.6,240.0 L504.2,239.2 L505.2,238.0 L506.1,236.8 L507.1,235.7 L508.1,234.8 L509.0,233.9 L510.0,233.3 L510.8,232.9 L511.6,232.6 L512.5,232.3 L513.3,232.0 L514.3,231.6 L515.3,231.3 L516.3,230.9 L517.3,230.6 L518.3,230.3 L519.3,230.0 L520.3,229.7 L521.3,229.4 L522.3,229.2 L523.3,229.0 L524.3,228.8 L525.3,228.7 L526.3,228.5 L527.3,228.3 L528.3,228.2 L529.3,228.1 L530.3,228.0 L531.3,227.9 L532.3,227.8 L533.3,227.8 L534.3,227.8 L535.3,227.8 L536.3,227.9 L537.3,227.9 L538.3,227.9 L539.3,228.0 L540.3,228.1 L541.3,228.1 L542.3,228.2 L543.3,228.3 L544.3,228.4 L545.2,228.6 L546.2,228.9 L547.1,229.2 L548.1,229.5 L549.0,229.9 L550.0,230.3 L551.0,230.8 L551.9,231.5 L552.9,232.3 L553.8,233.3 L554.8,234.2 L555.7,235.2 L556.7,236.2 L557.5,237.0 L558.4,237.9 L559.2,238.9 L560.0,239.8 L560.8,240.8 L561.6,241.8 L562.5,242.7 L563.3,243.7 L564.1,244.7 L565.0,245.7 L565.8,246.6 L566.6,247.6 L567.5,248.6 L568.3,249.5 L569.3,250.5 L570.2,251.6 L571.2,252.6 L572.1,253.6 L573.1,254.6 L574.0,255.4 L575.0,256.2 L576.0,256.9 L576.9,257.6 L577.9,258.3 L578.8,258.9 L579.8,259.4 L580.7,259.9 L581.7,260.3 L582.5,260.6 L583.4,260.9 L584.2,261.1 L585.0,261.2 L586.0,261.0 L586.9,260.5 L587.9,259.8 L588.9,259.0 L589.8,258.0 L590.8,257.0 L591.4,256.3 L592.0,255.5 L592.6,254.6 L593.2,253.6 L593.8,252.5 L594.3,251.4 L594.9,250.2 L595.5,249.1 L596.1,248.0 L596.7,247.0 L597.3,246.1 L597.8,245.1 L598.4,244.2 L598.9,243.3 L599.5,242.4 L600.0,241.5 L600.6,240.5 L601.1,239.6 L601.7,238.7 L602.3,237.7 L602.9,236.7 L603.5,235.6 L604.0,234.6 L604.6,233.6 L605.2,232.7 L605.8,232.0 L606.8,230.9 L607.8,229.8 L608.8,228.9 L609.7,228.1 L610.7,227.5 L611.7,227.2 L612.6,227.1 L613.5,227.0 L614.4,226.9 L615.3,226.8 L616.2,226.8 L617.2,226.7 L618.1,226.7 L619.0,226.6 L619.9,226.6 L620.8,226.6 L621.8,226.6 L622.8,226.6 L623.8,226.6 L624.8,226.7 L625.8,226.7 L626.8,226.7 L627.8,226.8 L628.8,226.8 L629.8,226.8 L630.8,226.8 L631.8,226.8 L632.8,226.7 L633.8,226.5 L634.8,226.3 L635.8,226.2 L636.7,225.9 L637.7,225.8 L638.7,225.6 L639.7,225.4 L640.7,225.3 L641.7,225.3 L642.6,225.3 L643.5,225.4 L644.4,225.4 L645.3,225.5 L646.2,225.6 L647.2,225.7 L648.1,225.7 L649.0,225.8 L649.9,225.9 L650.8,226.0" fill="none" stroke="#3030ac" stroke-width="1.5" stroke-linejoin="round" stroke-linecap="round"/>
</svg>
</body></html>
